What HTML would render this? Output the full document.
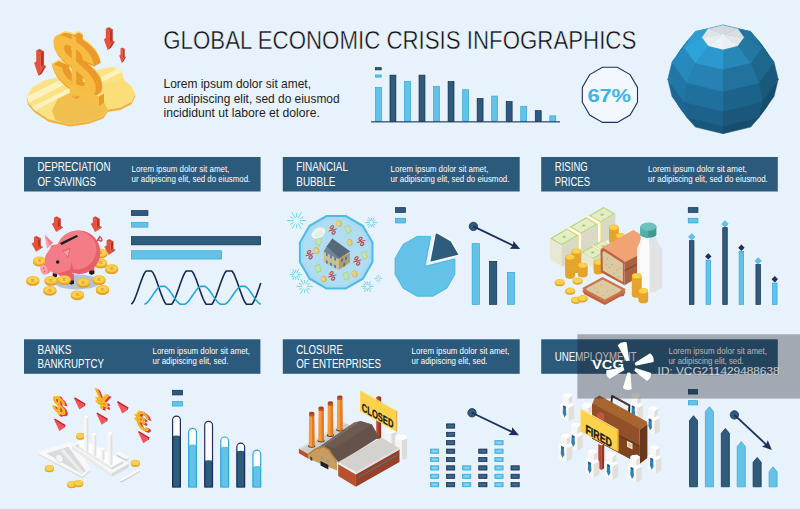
<!DOCTYPE html>
<html lang="en">
<head>
<meta charset="utf-8">
<title>Global Economic Crisis Infographics</title>
<style>
html,body{margin:0;padding:0;background:#e8f2fd;}
body{width:800px;height:509px;overflow:hidden;}
svg{display:block;font-family:"Liberation Sans",sans-serif;}
svg text{white-space:pre;}
</style>
</head>
<body>
<svg width="800" height="509" viewBox="0 0 800 509">
<rect width="800" height="509" fill="#e8f2fd"/>
<g id="title">
<text x="163.30" y="49.10" font-size="25" fill="#0c0c10" textLength="473.0" lengthAdjust="spacingAndGlyphs" stroke="#e8f2fd" stroke-width="0.45" paint-order="fill stroke">GLOBAL ECONOMIC CRISIS INFOGRAPHICS</text>
<text x="163.50" y="88.10" font-size="12.4" fill="#1d1d22" textLength="147.5" lengthAdjust="spacingAndGlyphs" >Lorem ipsum dolor sit amet,</text>
<text x="163.50" y="102.75" font-size="12.4" fill="#1d1d22" textLength="176.1" lengthAdjust="spacingAndGlyphs" >ur adipiscing elit, sed do eiusmod</text>
<text x="163.50" y="117.40" font-size="12.4" fill="#1d1d22" textLength="156.3" lengthAdjust="spacingAndGlyphs" >incididunt ut labore et dolore.</text>
</g>
<g id="topchart">
<rect x="375.45" y="67.65" width="5.80" height="2.20" fill="#2e5c7d" stroke="#15284f" stroke-width="0.7"/>
<rect x="375.45" y="74.95" width="5.80" height="2.20" fill="#64c2e8" stroke="#2ba7dc" stroke-width="0.7"/>
<rect x="375.45" y="87.55" width="5.90" height="33.70" fill="#64c2e8" stroke="#2ba7dc" stroke-width="0.7"/>
<rect x="389.98" y="75.15" width="5.90" height="46.10" fill="#2e5c7d" stroke="#15284f" stroke-width="0.7"/>
<rect x="404.51" y="81.45" width="5.90" height="39.80" fill="#64c2e8" stroke="#2ba7dc" stroke-width="0.7"/>
<rect x="419.04" y="75.15" width="5.90" height="46.10" fill="#2e5c7d" stroke="#15284f" stroke-width="0.7"/>
<rect x="433.57" y="86.45" width="5.90" height="34.80" fill="#64c2e8" stroke="#2ba7dc" stroke-width="0.7"/>
<rect x="448.10" y="81.45" width="5.90" height="39.80" fill="#2e5c7d" stroke="#15284f" stroke-width="0.7"/>
<rect x="462.63" y="89.75" width="5.90" height="31.50" fill="#64c2e8" stroke="#2ba7dc" stroke-width="0.7"/>
<rect x="477.16" y="98.55" width="5.90" height="22.70" fill="#2e5c7d" stroke="#15284f" stroke-width="0.7"/>
<rect x="491.69" y="96.05" width="5.90" height="25.20" fill="#64c2e8" stroke="#2ba7dc" stroke-width="0.7"/>
<rect x="506.22" y="101.55" width="5.90" height="19.70" fill="#2e5c7d" stroke="#15284f" stroke-width="0.7"/>
<rect x="520.75" y="106.55" width="5.90" height="14.70" fill="#64c2e8" stroke="#2ba7dc" stroke-width="0.7"/>
<rect x="535.28" y="110.65" width="5.90" height="10.60" fill="#2e5c7d" stroke="#15284f" stroke-width="0.7"/>
<rect x="549.81" y="115.85" width="5.90" height="5.40" fill="#64c2e8" stroke="#2ba7dc" stroke-width="0.7"/>
<rect x="371.00" y="121.30" width="189.00" height="1.10" fill="#1c2f5e" />
</g>
<g id="badge">
<polygon points="637.5,102.2 630.1,115.0 617.3,122.4 602.5,122.4 589.7,115.0 582.3,102.2 582.3,87.4 589.7,74.6 602.5,67.2 617.3,67.2 630.1,74.6 637.5,87.4" fill="#f3f8fe" stroke="#1c2f5e" stroke-width="1.1"/>
<text x="587.40" y="101.70" font-size="19.2" fill="#3db4e6" textLength="43.6" lengthAdjust="spacingAndGlyphs" font-weight="bold" >67%</text>
</g>
<g id="headers">
<rect x="24.00" y="157.00" width="236.60" height="34.50" fill="#2c5a7d" />
<text x="37.50" y="171.20" font-size="12.2" fill="#ffffff" textLength="73.0" lengthAdjust="spacingAndGlyphs" >DEPRECIATION</text>
<text x="37.50" y="185.70" font-size="12.2" fill="#ffffff" textLength="58.5" lengthAdjust="spacingAndGlyphs" >OF SAVINGS</text>
<text x="131.60" y="172.10" font-size="8.6" fill="#ffffff" textLength="97.7" lengthAdjust="spacingAndGlyphs" >Lorem ipsum dolor sit amet,</text>
<text x="131.60" y="182.00" font-size="8.6" fill="#ffffff" textLength="118.7" lengthAdjust="spacingAndGlyphs" >ur adipiscing elit, sed do eiusmod.</text>
<rect x="282.80" y="157.00" width="236.90" height="34.50" fill="#2c5a7d" />
<text x="296.30" y="171.20" font-size="12.2" fill="#ffffff" textLength="51.6" lengthAdjust="spacingAndGlyphs" >FINANCIAL</text>
<text x="296.30" y="185.70" font-size="12.2" fill="#ffffff" textLength="39.0" lengthAdjust="spacingAndGlyphs" >BUBBLE</text>
<text x="390.60" y="172.10" font-size="8.6" fill="#ffffff" textLength="97.8" lengthAdjust="spacingAndGlyphs" >Lorem ipsum dolor sit amet,</text>
<text x="390.60" y="182.00" font-size="8.6" fill="#ffffff" textLength="118.8" lengthAdjust="spacingAndGlyphs" >ur adipiscing elit, sed do eiusmod.</text>
<rect x="541.20" y="157.00" width="236.60" height="34.50" fill="#2c5a7d" />
<text x="554.70" y="171.20" font-size="12.2" fill="#ffffff" textLength="33.1" lengthAdjust="spacingAndGlyphs" >RISING</text>
<text x="554.70" y="185.70" font-size="12.2" fill="#ffffff" textLength="35.3" lengthAdjust="spacingAndGlyphs" >PRICES</text>
<text x="648.10" y="172.10" font-size="8.6" fill="#ffffff" textLength="98.8" lengthAdjust="spacingAndGlyphs" >Lorem ipsum dolor sit amet,</text>
<text x="648.10" y="182.00" font-size="8.6" fill="#ffffff" textLength="119.7" lengthAdjust="spacingAndGlyphs" >ur adipiscing elit, sed do eiusmod.</text>
<rect x="24.00" y="339.30" width="236.40" height="34.50" fill="#2c5a7d" />
<text x="37.50" y="353.50" font-size="12.2" fill="#ffffff" textLength="33.8" lengthAdjust="spacingAndGlyphs" >BANKS</text>
<text x="37.50" y="368.00" font-size="12.2" fill="#ffffff" textLength="66.5" lengthAdjust="spacingAndGlyphs" >BANKRUPTCY</text>
<text x="152.50" y="354.40" font-size="8.6" fill="#ffffff" textLength="97.5" lengthAdjust="spacingAndGlyphs" >Lorem ipsum dolor sit amet,</text>
<text x="152.50" y="364.30" font-size="8.6" fill="#ffffff" textLength="75.9" lengthAdjust="spacingAndGlyphs" >ur adipiscing elit, sed.</text>
<rect x="282.80" y="339.30" width="236.90" height="34.50" fill="#2c5a7d" />
<text x="296.30" y="353.50" font-size="12.2" fill="#ffffff" textLength="46.6" lengthAdjust="spacingAndGlyphs" >CLOSURE</text>
<text x="296.30" y="368.00" font-size="12.2" fill="#ffffff" textLength="84.7" lengthAdjust="spacingAndGlyphs" >OF ENTERPRISES</text>
<text x="411.60" y="354.40" font-size="8.6" fill="#ffffff" textLength="97.8" lengthAdjust="spacingAndGlyphs" >Lorem ipsum dolor sit amet,</text>
<text x="411.60" y="364.30" font-size="8.6" fill="#ffffff" textLength="75.9" lengthAdjust="spacingAndGlyphs" >ur adipiscing elit, sed.</text>
<rect x="541.20" y="339.30" width="236.60" height="34.50" fill="#2c5a7d" />
<text x="554.70" y="360.90" font-size="12.2" fill="#ffffff" textLength="81.8" lengthAdjust="spacingAndGlyphs" >UNEMPLOYMENT</text>
<text x="668.50" y="354.40" font-size="8.6" fill="#ffffff" textLength="98.4" lengthAdjust="spacingAndGlyphs" >Lorem ipsum dolor sit amet,</text>
<text x="668.50" y="364.30" font-size="8.6" fill="#ffffff" textLength="75.2" lengthAdjust="spacingAndGlyphs" >ur adipiscing elit, sed.</text>
</g>
<g id="chart1">
<rect x="131.45" y="210.65" width="16.50" height="4.80" fill="#2e5c7d" stroke="#15284f" stroke-width="0.7"/>
<rect x="131.45" y="222.45" width="16.50" height="4.70" fill="#64c2e8" stroke="#2ba7dc" stroke-width="0.7"/>
<rect x="131.45" y="236.65" width="129.20" height="8.20" fill="#2e5c7d" stroke="#15284f" stroke-width="0.7"/>
<rect x="131.45" y="250.75" width="90.10" height="8.30" fill="#64c2e8" stroke="#2ba7dc" stroke-width="0.7"/>
<polyline points="131.3,304.2 132.7,302.8 134.2,300.1 135.6,296.7 137.1,292.8 138.5,288.7 139.9,284.5 141.4,280.5 142.8,276.8 144.2,273.7 145.7,271.3 147.1,271.0 148.6,271.0 150.0,271.0 151.4,271.0 152.9,272.5 154.3,275.3 155.8,278.8 157.2,282.6 158.6,286.8 160.1,290.9 161.5,294.9 163.0,298.6 164.4,301.7 165.8,304.0 167.3,304.2 168.7,304.2 170.2,304.2 171.6,304.2 173.0,302.5 174.5,299.7 175.9,296.2 177.3,292.3 178.8,288.2 180.2,284.0 181.7,280.0 183.1,276.4 184.5,273.4 186.0,271.1 187.4,271.0 188.9,271.0 190.3,271.0 191.7,271.0 193.2,272.8 194.6,275.7 196.1,279.2 197.5,283.2 198.9,287.3 200.4,291.5 201.8,295.4 203.2,299.0 204.7,302.0 206.1,304.2 207.6,304.2 209.0,304.2 210.4,304.2 211.9,304.2 213.3,302.2 214.8,299.2 216.2,295.7 217.6,291.8 219.1,287.6 220.5,283.5 222.0,279.5 223.4,276.0 224.8,273.0 226.3,271.0 227.7,271.0 229.1,271.0 230.6,271.0 232.0,271.0 233.5,273.2 234.9,276.2 236.3,279.7 237.8,283.7 239.2,287.9 240.7,292.0 242.1,295.9 243.5,299.4 245.0,302.3 246.4,304.2 247.9,304.2 249.3,304.2 250.7,304.2 252.2,304.2 253.6,301.8 255.0,298.8 256.5,295.2 257.9,291.2 259.4,287.1 260.8,282.9" fill="none" stroke="#16284f" stroke-width="1.6" stroke-linejoin="round"/>
<polyline points="144.3,304.2 145.6,303.8 146.9,302.8 148.2,301.4 149.5,299.8 150.8,298.0 152.1,296.1 153.4,294.1 154.7,292.2 156.0,290.5 157.2,288.9 158.5,287.6 159.8,286.6 161.1,286.4 162.4,286.4 163.7,286.4 165.0,286.4 166.3,287.3 167.6,288.5 168.9,290.0 170.2,291.7 171.5,293.6 172.8,295.5 174.1,297.5 175.4,299.3 176.7,301.0 178.0,302.4 179.2,303.6 180.5,304.2 181.8,304.2 183.1,304.2 184.4,304.2 185.7,303.8 187.0,302.7 188.3,301.4 189.6,299.7 190.9,297.9 192.2,296.0 193.5,294.1 194.8,292.2 196.1,290.4 197.4,288.8 198.7,287.5 200.0,286.6 201.3,286.4 202.6,286.4 203.8,286.4 205.1,286.4 206.4,287.3 207.7,288.5 209.0,290.0 210.3,291.8 211.6,293.6 212.9,295.6 214.2,297.5 215.5,299.3 216.8,301.0 218.1,302.5 219.4,303.6 220.7,304.2 222.0,304.2 223.3,304.2 224.6,304.2 225.9,303.8 227.1,302.7 228.4,301.3 229.7,299.7 231.0,297.9 232.3,296.0 233.6,294.0 234.9,292.1 236.2,290.4 237.5,288.8 238.8,287.5 240.1,286.5 241.4,286.4 242.7,286.4 244.0,286.4 245.3,286.4 246.6,287.3 247.9,288.5 249.2,290.1 250.4,291.8 251.7,293.7 253.0,295.6 254.3,297.5 255.6,299.4 256.9,301.0 258.2,302.5 259.5,303.6 260.8,304.2" fill="none" stroke="#22a6dc" stroke-width="1.6" stroke-linejoin="round"/>
</g>
<g id="chart2">
<rect x="395.45" y="207.65" width="10.00" height="4.70" fill="#2e5c7d" stroke="#15284f" stroke-width="0.7"/>
<rect x="395.45" y="218.25" width="10.00" height="4.70" fill="#64c2e8" stroke="#2ba7dc" stroke-width="0.7"/>
<polygon points="425.0,266.3 454.9,258.8 454.9,274.3 446.9,288.2 433.0,296.2 417.0,296.2 403.1,288.2 395.1,274.3 395.1,258.3 403.1,244.4 417.0,236.4 430.8,236.4" fill="#64c2e8" stroke="#2ba7dc" stroke-width="0.7"/>
<polygon points="429.4,262.7 435.2,232.8 437.4,232.8 451.3,240.8 459.3,254.7 459.3,255.2" fill="#2e5c7d" stroke="#f7fbff" stroke-width="1.6" stroke-linejoin="miter"/>
<rect x="472.15" y="243.65" width="7.30" height="60.70" fill="#64c2e8" stroke="#2ba7dc" stroke-width="0.7"/>
<rect x="489.55" y="261.35" width="7.20" height="43.00" fill="#2e5c7d" stroke="#15284f" stroke-width="0.7"/>
<rect x="507.45" y="272.45" width="7.00" height="31.90" fill="#64c2e8" stroke="#2ba7dc" stroke-width="0.7"/>
<circle cx="473.4" cy="226.4" r="4.2" fill="#2e5c7d" stroke="#1c2f5e" stroke-width="0.8"/>
<line x1="473.4" y1="226.4" x2="513.4" y2="245.7" stroke="#1c2f5e" stroke-width="1.8"/>
<polygon points="520.2,249.0 509.7,248.7 512.9,245.5 513.4,241.0" fill="#1c2f5e" />
</g>
<g id="chart3">
<rect x="688.25" y="207.65" width="9.70" height="4.70" fill="#2e5c7d" stroke="#15284f" stroke-width="0.7"/>
<rect x="688.25" y="218.25" width="9.70" height="4.70" fill="#64c2e8" stroke="#2ba7dc" stroke-width="0.7"/>
<rect x="689.45" y="240.65" width="4.50" height="63.70" fill="#2e5c7d" stroke="#15284f" stroke-width="0.7"/>
<polygon points="691.7,233.7 694.9,236.9 691.7,240.1 688.5,236.9" fill="#64c2e8" stroke="#2ba7dc" stroke-width="0.6"/>
<rect x="706.05" y="260.15" width="4.50" height="44.20" fill="#64c2e8" stroke="#2ba7dc" stroke-width="0.7"/>
<polygon points="708.3,253.2 711.5,256.4 708.3,259.6 705.1,256.4" fill="#1c2f5e" />
<rect x="722.75" y="227.65" width="4.50" height="76.70" fill="#2e5c7d" stroke="#15284f" stroke-width="0.7"/>
<polygon points="725.0,220.7 728.2,223.9 725.0,227.1 721.8,223.9" fill="#64c2e8" stroke="#2ba7dc" stroke-width="0.6"/>
<rect x="739.15" y="251.45" width="4.50" height="52.90" fill="#64c2e8" stroke="#2ba7dc" stroke-width="0.7"/>
<polygon points="741.4,244.5 744.6,247.7 741.4,250.9 738.2,247.7" fill="#1c2f5e" />
<rect x="755.95" y="264.65" width="4.50" height="39.70" fill="#2e5c7d" stroke="#15284f" stroke-width="0.7"/>
<polygon points="758.2,257.7 761.4,260.9 758.2,264.1 755.0,260.9" fill="#64c2e8" stroke="#2ba7dc" stroke-width="0.6"/>
<rect x="772.55" y="283.05" width="4.50" height="21.30" fill="#64c2e8" stroke="#2ba7dc" stroke-width="0.7"/>
<polygon points="774.8,276.1 778.0,279.3 774.8,282.5 771.6,279.3" fill="#1c2f5e" />
</g>
<g id="chart4">
<rect x="172.55" y="390.25" width="9.90" height="4.70" fill="#2e5c7d" stroke="#15284f" stroke-width="0.7"/>
<rect x="172.55" y="401.55" width="9.90" height="4.50" fill="#64c2e8" stroke="#2ba7dc" stroke-width="0.7"/>
<path d="M172.60,487.0 V420.00 a3.90,3.90 0 0 1 7.80,0 V487 Z" fill="#ffffff" stroke="#1c2f5e" stroke-width="1.2"/>
<rect x="172.95" y="436.95" width="7.10" height="50.00" fill="#2e5c7d" stroke="#15284f" stroke-width="0.7"/>
<ellipse cx="176.50" cy="436.60" rx="3.90" ry="1.1" fill="#2e5c7d"/>
<path d="M188.66,487.0 V432.20 a3.90,3.90 0 0 1 7.80,0 V487 Z" fill="#ffffff" stroke="#2aa7dc" stroke-width="1.2"/>
<rect x="189.01" y="445.85" width="7.10" height="41.10" fill="#64c2e8" stroke="#2ba7dc" stroke-width="0.7"/>
<ellipse cx="192.56" cy="445.50" rx="3.90" ry="1.1" fill="#64c2e8"/>
<path d="M204.72,487.0 V425.20 a3.90,3.90 0 0 1 7.80,0 V487 Z" fill="#ffffff" stroke="#1c2f5e" stroke-width="1.2"/>
<rect x="205.07" y="461.65" width="7.10" height="25.30" fill="#2e5c7d" stroke="#15284f" stroke-width="0.7"/>
<ellipse cx="208.62" cy="461.30" rx="3.90" ry="1.1" fill="#2e5c7d"/>
<path d="M220.78,487.0 V440.90 a3.90,3.90 0 0 1 7.80,0 V487 Z" fill="#ffffff" stroke="#2aa7dc" stroke-width="1.2"/>
<rect x="221.13" y="448.25" width="7.10" height="38.70" fill="#64c2e8" stroke="#2ba7dc" stroke-width="0.7"/>
<ellipse cx="224.68" cy="447.90" rx="3.90" ry="1.1" fill="#64c2e8"/>
<path d="M236.84,487.0 V447.10 a3.90,3.90 0 0 1 7.80,0 V487 Z" fill="#ffffff" stroke="#1c2f5e" stroke-width="1.2"/>
<rect x="237.19" y="452.25" width="7.10" height="34.70" fill="#2e5c7d" stroke="#15284f" stroke-width="0.7"/>
<ellipse cx="240.74" cy="451.90" rx="3.90" ry="1.1" fill="#2e5c7d"/>
<path d="M252.90,487.0 V454.10 a3.90,3.90 0 0 1 7.80,0 V487 Z" fill="#ffffff" stroke="#2aa7dc" stroke-width="1.2"/>
<rect x="253.25" y="467.55" width="7.10" height="19.40" fill="#64c2e8" stroke="#2ba7dc" stroke-width="0.7"/>
<ellipse cx="256.80" cy="467.20" rx="3.90" ry="1.1" fill="#64c2e8"/>
</g>
<g id="chart5">
<rect x="429.40" y="481.60" width="10.20" height="6.20" fill="#f4f9ff" />
<rect x="430.35" y="482.55" width="8.30" height="4.30" fill="#64c2e8" stroke="#2ba7dc" stroke-width="0.7"/>
<rect x="432.00" y="483.80" width="5.00" height="1.80" fill="#8fd2ee" />
<rect x="429.40" y="473.21" width="10.20" height="6.20" fill="#f4f9ff" />
<rect x="430.35" y="474.17" width="8.30" height="4.30" fill="#64c2e8" stroke="#2ba7dc" stroke-width="0.7"/>
<rect x="432.00" y="475.42" width="5.00" height="1.80" fill="#8fd2ee" />
<rect x="429.40" y="464.83" width="10.20" height="6.20" fill="#f4f9ff" />
<rect x="430.35" y="465.78" width="8.30" height="4.30" fill="#64c2e8" stroke="#2ba7dc" stroke-width="0.7"/>
<rect x="432.00" y="467.03" width="5.00" height="1.80" fill="#8fd2ee" />
<rect x="429.40" y="456.44" width="10.20" height="6.20" fill="#f4f9ff" />
<rect x="430.35" y="457.39" width="8.30" height="4.30" fill="#64c2e8" stroke="#2ba7dc" stroke-width="0.7"/>
<rect x="432.00" y="458.64" width="5.00" height="1.80" fill="#8fd2ee" />
<rect x="429.40" y="448.06" width="10.20" height="6.20" fill="#f4f9ff" />
<rect x="430.35" y="449.01" width="8.30" height="4.30" fill="#64c2e8" stroke="#2ba7dc" stroke-width="0.7"/>
<rect x="432.00" y="450.26" width="5.00" height="1.80" fill="#8fd2ee" />
<rect x="445.52" y="481.60" width="10.20" height="6.20" fill="#f4f9ff" />
<rect x="446.47" y="482.55" width="8.30" height="4.30" fill="#2e5c7d" stroke="#15284f" stroke-width="0.7"/>
<rect x="448.12" y="483.80" width="5.00" height="1.80" fill="#40698a" />
<rect x="445.52" y="473.21" width="10.20" height="6.20" fill="#f4f9ff" />
<rect x="446.47" y="474.17" width="8.30" height="4.30" fill="#2e5c7d" stroke="#15284f" stroke-width="0.7"/>
<rect x="448.12" y="475.42" width="5.00" height="1.80" fill="#40698a" />
<rect x="445.52" y="464.83" width="10.20" height="6.20" fill="#f4f9ff" />
<rect x="446.47" y="465.78" width="8.30" height="4.30" fill="#2e5c7d" stroke="#15284f" stroke-width="0.7"/>
<rect x="448.12" y="467.03" width="5.00" height="1.80" fill="#40698a" />
<rect x="445.52" y="456.44" width="10.20" height="6.20" fill="#f4f9ff" />
<rect x="446.47" y="457.39" width="8.30" height="4.30" fill="#2e5c7d" stroke="#15284f" stroke-width="0.7"/>
<rect x="448.12" y="458.64" width="5.00" height="1.80" fill="#40698a" />
<rect x="445.52" y="448.06" width="10.20" height="6.20" fill="#f4f9ff" />
<rect x="446.47" y="449.01" width="8.30" height="4.30" fill="#2e5c7d" stroke="#15284f" stroke-width="0.7"/>
<rect x="448.12" y="450.26" width="5.00" height="1.80" fill="#40698a" />
<rect x="445.52" y="439.67" width="10.20" height="6.20" fill="#f4f9ff" />
<rect x="446.47" y="440.62" width="8.30" height="4.30" fill="#2e5c7d" stroke="#15284f" stroke-width="0.7"/>
<rect x="448.12" y="441.88" width="5.00" height="1.80" fill="#40698a" />
<rect x="445.52" y="431.29" width="10.20" height="6.20" fill="#f4f9ff" />
<rect x="446.47" y="432.24" width="8.30" height="4.30" fill="#2e5c7d" stroke="#15284f" stroke-width="0.7"/>
<rect x="448.12" y="433.49" width="5.00" height="1.80" fill="#40698a" />
<rect x="445.52" y="422.90" width="10.20" height="6.20" fill="#f4f9ff" />
<rect x="446.47" y="423.86" width="8.30" height="4.30" fill="#2e5c7d" stroke="#15284f" stroke-width="0.7"/>
<rect x="448.12" y="425.11" width="5.00" height="1.80" fill="#40698a" />
<rect x="461.64" y="481.60" width="10.20" height="6.20" fill="#f4f9ff" />
<rect x="462.59" y="482.55" width="8.30" height="4.30" fill="#64c2e8" stroke="#2ba7dc" stroke-width="0.7"/>
<rect x="464.24" y="483.80" width="5.00" height="1.80" fill="#8fd2ee" />
<rect x="461.64" y="473.21" width="10.20" height="6.20" fill="#f4f9ff" />
<rect x="462.59" y="474.17" width="8.30" height="4.30" fill="#64c2e8" stroke="#2ba7dc" stroke-width="0.7"/>
<rect x="464.24" y="475.42" width="5.00" height="1.80" fill="#8fd2ee" />
<rect x="461.64" y="464.83" width="10.20" height="6.20" fill="#f4f9ff" />
<rect x="462.59" y="465.78" width="8.30" height="4.30" fill="#64c2e8" stroke="#2ba7dc" stroke-width="0.7"/>
<rect x="464.24" y="467.03" width="5.00" height="1.80" fill="#8fd2ee" />
<rect x="477.76" y="481.60" width="10.20" height="6.20" fill="#f4f9ff" />
<rect x="478.71" y="482.55" width="8.30" height="4.30" fill="#2e5c7d" stroke="#15284f" stroke-width="0.7"/>
<rect x="480.36" y="483.80" width="5.00" height="1.80" fill="#40698a" />
<rect x="477.76" y="473.21" width="10.20" height="6.20" fill="#f4f9ff" />
<rect x="478.71" y="474.17" width="8.30" height="4.30" fill="#2e5c7d" stroke="#15284f" stroke-width="0.7"/>
<rect x="480.36" y="475.42" width="5.00" height="1.80" fill="#40698a" />
<rect x="477.76" y="464.83" width="10.20" height="6.20" fill="#f4f9ff" />
<rect x="478.71" y="465.78" width="8.30" height="4.30" fill="#2e5c7d" stroke="#15284f" stroke-width="0.7"/>
<rect x="480.36" y="467.03" width="5.00" height="1.80" fill="#40698a" />
<rect x="477.76" y="456.44" width="10.20" height="6.20" fill="#f4f9ff" />
<rect x="478.71" y="457.39" width="8.30" height="4.30" fill="#2e5c7d" stroke="#15284f" stroke-width="0.7"/>
<rect x="480.36" y="458.64" width="5.00" height="1.80" fill="#40698a" />
<rect x="477.76" y="448.06" width="10.20" height="6.20" fill="#f4f9ff" />
<rect x="478.71" y="449.01" width="8.30" height="4.30" fill="#2e5c7d" stroke="#15284f" stroke-width="0.7"/>
<rect x="480.36" y="450.26" width="5.00" height="1.80" fill="#40698a" />
<rect x="493.88" y="481.60" width="10.20" height="6.20" fill="#f4f9ff" />
<rect x="494.83" y="482.55" width="8.30" height="4.30" fill="#64c2e8" stroke="#2ba7dc" stroke-width="0.7"/>
<rect x="496.48" y="483.80" width="5.00" height="1.80" fill="#8fd2ee" />
<rect x="493.88" y="473.21" width="10.20" height="6.20" fill="#f4f9ff" />
<rect x="494.83" y="474.17" width="8.30" height="4.30" fill="#64c2e8" stroke="#2ba7dc" stroke-width="0.7"/>
<rect x="496.48" y="475.42" width="5.00" height="1.80" fill="#8fd2ee" />
<rect x="493.88" y="464.83" width="10.20" height="6.20" fill="#f4f9ff" />
<rect x="494.83" y="465.78" width="8.30" height="4.30" fill="#64c2e8" stroke="#2ba7dc" stroke-width="0.7"/>
<rect x="496.48" y="467.03" width="5.00" height="1.80" fill="#8fd2ee" />
<rect x="493.88" y="456.44" width="10.20" height="6.20" fill="#f4f9ff" />
<rect x="494.83" y="457.39" width="8.30" height="4.30" fill="#64c2e8" stroke="#2ba7dc" stroke-width="0.7"/>
<rect x="496.48" y="458.64" width="5.00" height="1.80" fill="#8fd2ee" />
<rect x="493.88" y="448.06" width="10.20" height="6.20" fill="#f4f9ff" />
<rect x="494.83" y="449.01" width="8.30" height="4.30" fill="#64c2e8" stroke="#2ba7dc" stroke-width="0.7"/>
<rect x="496.48" y="450.26" width="5.00" height="1.80" fill="#8fd2ee" />
<rect x="493.88" y="439.67" width="10.20" height="6.20" fill="#f4f9ff" />
<rect x="494.83" y="440.62" width="8.30" height="4.30" fill="#64c2e8" stroke="#2ba7dc" stroke-width="0.7"/>
<rect x="496.48" y="441.88" width="5.00" height="1.80" fill="#8fd2ee" />
<rect x="510.00" y="481.60" width="10.20" height="6.20" fill="#f4f9ff" />
<rect x="510.95" y="482.55" width="8.30" height="4.30" fill="#2e5c7d" stroke="#15284f" stroke-width="0.7"/>
<rect x="512.60" y="483.80" width="5.00" height="1.80" fill="#40698a" />
<rect x="510.00" y="473.21" width="10.20" height="6.20" fill="#f4f9ff" />
<rect x="510.95" y="474.17" width="8.30" height="4.30" fill="#2e5c7d" stroke="#15284f" stroke-width="0.7"/>
<rect x="512.60" y="475.42" width="5.00" height="1.80" fill="#40698a" />
<rect x="510.00" y="464.83" width="10.20" height="6.20" fill="#f4f9ff" />
<rect x="510.95" y="465.78" width="8.30" height="4.30" fill="#2e5c7d" stroke="#15284f" stroke-width="0.7"/>
<rect x="512.60" y="467.03" width="5.00" height="1.80" fill="#40698a" />
<circle cx="472.0" cy="412.8" r="4.2" fill="#2e5c7d" stroke="#1c2f5e" stroke-width="0.8"/>
<line x1="472.0" y1="412.8" x2="512.1" y2="431.9" stroke="#1c2f5e" stroke-width="1.8"/>
<polygon points="519.0,435.2 508.5,435.0 511.7,431.7 512.2,427.2" fill="#1c2f5e" />
</g>
<g id="chart6">
<rect x="688.35" y="389.55" width="9.20" height="4.50" fill="#2e5c7d" stroke="#15284f" stroke-width="0.7"/>
<rect x="688.35" y="400.65" width="9.20" height="4.30" fill="#64c2e8" stroke="#2ba7dc" stroke-width="0.7"/>
<polygon points="689.5,486.8 689.5,420.6 693.5,415.7 697.5,420.6 697.5,486.8" fill="#2e5c7d" stroke="#15284f" stroke-width="0.7"/>
<polygon points="705.4,486.8 705.4,411.6 709.4,406.7 713.5,411.6 713.5,486.8" fill="#64c2e8" stroke="#2ba7dc" stroke-width="0.7"/>
<polygon points="721.3,486.8 721.3,433.3 725.3,428.4 729.4,433.3 729.4,486.8" fill="#2e5c7d" stroke="#15284f" stroke-width="0.7"/>
<polygon points="737.2,486.8 737.2,446.5 741.3,441.6 745.3,446.5 745.3,486.8" fill="#64c2e8" stroke="#2ba7dc" stroke-width="0.7"/>
<polygon points="753.1,486.8 753.1,462.3 757.2,457.4 761.2,462.3 761.2,486.8" fill="#2e5c7d" stroke="#15284f" stroke-width="0.7"/>
<polygon points="769.1,486.8 769.1,471.7 773.1,466.8 777.1,471.7 777.1,486.8" fill="#64c2e8" stroke="#2ba7dc" stroke-width="0.7"/>
<circle cx="734.4" cy="414.9" r="4.2" fill="#2e5c7d" stroke="#1c2f5e" stroke-width="0.8"/>
<line x1="734.4" y1="414.9" x2="766.4" y2="444.8" stroke="#1c2f5e" stroke-width="1.8"/>
<polygon points="771.9,450.0 762.0,446.6 766.0,444.5 767.8,440.3" fill="#1c2f5e" />
</g>
<g id="globe">
<circle cx="723.0" cy="79.3" r="52.0" fill="#226c98"/>
<polygon points="695.4,31.5 684.0,47.4 672.0,62.1 686.9,41.2" fill="#2685b7" stroke="#2685b7" stroke-width="0.5" stroke-linejoin="round"/>
<polygon points="762.0,47.4 750.6,31.5 759.1,41.2 774.0,62.1" fill="#1c6388" stroke="#1c6388" stroke-width="0.5" stroke-linejoin="round"/>
<polygon points="723.0,25.5 708.1,29.0 695.4,31.5 723.0,24.9" fill="#298dbe" stroke="#298dbe" stroke-width="0.5" stroke-linejoin="round"/>
<polygon points="737.9,29.0 723.0,25.5 723.0,24.9 750.6,31.5" fill="#247da8" stroke="#247da8" stroke-width="0.5" stroke-linejoin="round"/>
<polygon points="667.8,79.3 684.0,101.9 686.9,117.4 672.0,96.5" fill="#1f6792" stroke="#1f6792" stroke-width="0.5" stroke-linejoin="round"/>
<polygon points="762.0,101.9 778.2,79.3 774.0,96.5 759.1,117.4" fill="#174d6c" stroke="#174d6c" stroke-width="0.5" stroke-linejoin="round"/>
<polygon points="686.9,117.4 723.0,126.0 723.0,133.7 695.4,127.1" fill="#1a577c" stroke="#1a577c" stroke-width="0.5" stroke-linejoin="round"/>
<polygon points="723.0,126.0 759.1,117.4 750.6,127.1 723.0,133.7" fill="#174d6d" stroke="#174d6d" stroke-width="0.5" stroke-linejoin="round"/>
<polygon points="708.1,29.0 701.9,37.7 684.0,47.4 695.4,31.5" fill="#2d9dd3" stroke="#2d9dd3" stroke-width="0.5" stroke-linejoin="round"/>
<polygon points="744.1,37.7 737.9,29.0 750.6,31.5 762.0,47.4" fill="#21749c" stroke="#21749c" stroke-width="0.5" stroke-linejoin="round"/>
<polygon points="672.0,62.1 686.9,82.9 684.0,101.9 667.8,79.3" fill="#2276a6" stroke="#2276a6" stroke-width="0.5" stroke-linejoin="round"/>
<polygon points="759.1,82.9 774.0,62.1 778.2,79.3 762.0,101.9" fill="#19587b" stroke="#19587b" stroke-width="0.5" stroke-linejoin="round"/>
<polygon points="723.0,34.2 723.0,34.2 723.0,25.5 737.9,29.0" fill="#d4d9dc" stroke="#d4d9dc" stroke-width="0.5" stroke-linejoin="round"/>
<polygon points="723.0,34.2 723.0,34.2 708.1,29.0 723.0,25.5" fill="#d7dbdf" stroke="#d7dbdf" stroke-width="0.5" stroke-linejoin="round"/>
<polygon points="723.0,34.2 723.0,34.2 701.9,37.7 708.1,29.0" fill="#dfe4e7" stroke="#dfe4e7" stroke-width="0.5" stroke-linejoin="round"/>
<polygon points="723.0,34.2 723.0,34.2 737.9,29.0 744.1,37.7" fill="#d9dde0" stroke="#d9dde0" stroke-width="0.5" stroke-linejoin="round"/>
<polygon points="684.0,47.4 695.4,63.4 686.9,82.9 672.0,62.1" fill="#2789bd" stroke="#2789bd" stroke-width="0.5" stroke-linejoin="round"/>
<polygon points="750.6,63.4 762.0,47.4 774.0,62.1 759.1,82.9" fill="#1d668c" stroke="#1d668c" stroke-width="0.5" stroke-linejoin="round"/>
<polygon points="723.0,111.2 762.0,101.9 759.1,117.4 723.0,126.0" fill="#1a577a" stroke="#1a577a" stroke-width="0.5" stroke-linejoin="round"/>
<polygon points="684.0,101.9 723.0,111.2 723.0,126.0 686.9,117.4" fill="#1d628a" stroke="#1d628a" stroke-width="0.5" stroke-linejoin="round"/>
<polygon points="723.0,34.2 723.0,34.2 744.1,37.7 737.9,46.3" fill="#e2e6ea" stroke="#e2e6ea" stroke-width="0.5" stroke-linejoin="round"/>
<polygon points="723.0,34.2 723.0,34.2 708.1,46.3 701.9,37.7" fill="#e8edf1" stroke="#e8edf1" stroke-width="0.5" stroke-linejoin="round"/>
<polygon points="701.9,37.7 708.1,46.3 695.4,63.4 684.0,47.4" fill="#2ea2da" stroke="#2ea2da" stroke-width="0.5" stroke-linejoin="round"/>
<polygon points="737.9,46.3 744.1,37.7 762.0,47.4 750.6,63.4" fill="#2378a2" stroke="#2378a2" stroke-width="0.5" stroke-linejoin="round"/>
<polygon points="723.0,34.2 723.0,34.2 737.9,46.3 723.0,49.9" fill="#eaeff3" stroke="#eaeff3" stroke-width="0.5" stroke-linejoin="round"/>
<polygon points="723.0,34.2 723.0,34.2 723.0,49.9 708.1,46.3" fill="#edf2f6" stroke="#edf2f6" stroke-width="0.5" stroke-linejoin="round"/>
<polygon points="723.0,91.5 759.1,82.9 762.0,101.9 723.0,111.2" fill="#1c638b" stroke="#1c638b" stroke-width="0.5" stroke-linejoin="round"/>
<polygon points="686.9,82.9 723.0,91.5 723.0,111.2 684.0,101.9" fill="#20709d" stroke="#20709d" stroke-width="0.5" stroke-linejoin="round"/>
<polygon points="723.0,49.9 737.9,46.3 750.6,63.4 723.0,70.0" fill="#2787b6" stroke="#2787b6" stroke-width="0.5" stroke-linejoin="round"/>
<polygon points="708.1,46.3 723.0,49.9 723.0,70.0 695.4,63.4" fill="#2c99ce" stroke="#2c99ce" stroke-width="0.5" stroke-linejoin="round"/>
<polygon points="695.4,63.4 723.0,70.0 723.0,91.5 686.9,82.9" fill="#2582b3" stroke="#2582b3" stroke-width="0.5" stroke-linejoin="round"/>
<polygon points="723.0,70.0 750.6,63.4 759.1,82.9 723.0,91.5" fill="#21739e" stroke="#21739e" stroke-width="0.5" stroke-linejoin="round"/>
</g>
<g id="gold">
<polygon points="27.1,98.6 31.8,90.3 43.6,83.3 60.1,79.0 70.7,79.0 90.8,77.4 99.0,71.9 113.2,69.1 121.5,73.4 123.8,82.8 130.4,87.5 135.1,96.2 131.4,104.0 120.3,109.7 107.8,111.6 103.1,118.2 88.9,123.4 70.0,126.2 48.8,121.5 34.6,112.1 28.5,105.0" fill="#f2ad3c" stroke="#f2ad3c" stroke-width="0.6" stroke-linejoin="round"/>
<clipPath id="pudc"><polygon points="27.1,96.4 31.8,88.1 43.6,81.1 60.1,76.8 70.7,76.8 90.8,75.2 99.0,69.7 113.2,66.9 121.5,71.2 123.8,80.6 130.4,85.3 135.1,94.0 131.4,101.8 120.3,107.5 107.8,109.4 103.1,116.0 88.9,121.2 70.0,124.0 48.8,119.3 34.6,109.9 28.5,102.8"/></clipPath>
<polygon points="27.1,96.4 31.8,88.1 43.6,81.1 60.1,76.8 70.7,76.8 90.8,75.2 99.0,69.7 113.2,66.9 121.5,71.2 123.8,80.6 130.4,85.3 135.1,94.0 131.4,101.8 120.3,107.5 107.8,109.4 103.1,116.0 88.9,121.2 70.0,124.0 48.8,119.3 34.6,109.9 28.5,102.8" fill="#fbe284" stroke="#fbe284" stroke-width="0.6" stroke-linejoin="round"/>
<g clip-path="url(#pudc)">
<polygon points="24.7,97.6 74.3,72.8 79.0,76.8 29.4,102.8" fill="#fdf1bd" />
<polygon points="29.4,108.2 69.6,88.1 72.4,91.0 33.0,111.7" fill="#fdf1bd" />
<polygon points="88.4,83.4 123.8,65.7 126.2,69.7 90.8,87.7" fill="#fdf1bd" />
<polygon points="97.9,85.8 123.8,78.7 138.0,95.2 121.5,109.4 104.9,109.4" fill="#fadb6e" opacity="0.55"/>
<polygon points="51.9,110.6 57.8,98.8 69.6,93.3 90.8,92.9 101.4,97.6 107.8,109.4 103.1,116.5 88.9,121.7 70.0,124.5 55.4,120.0" fill="#f1bf4e" />
</g>
<text transform="translate(57.00,73.76) skewY(30) scale(1.16,1.03)" font-size="72" font-weight="bold" fill="#fbd861">$</text>
<text transform="translate(56.45,74.08) skewY(30) scale(1.16,1.03)" font-size="72" font-weight="bold" fill="#fbd861">$</text>
<text transform="translate(55.90,74.40) skewY(30) scale(1.16,1.03)" font-size="72" font-weight="bold" fill="#fbd861">$</text>
<text transform="translate(55.35,74.72) skewY(30) scale(1.16,1.03)" font-size="72" font-weight="bold" fill="#fbd861">$</text>
<text transform="translate(54.80,75.04) skewY(30) scale(1.16,1.03)" font-size="72" font-weight="bold" fill="#fbd861">$</text>
<text transform="translate(54.25,75.36) skewY(30) scale(1.16,1.03)" font-size="72" font-weight="bold" fill="#fbd861">$</text>
<text transform="translate(53.70,75.68) skewY(30) scale(1.16,1.03)" font-size="72" font-weight="bold" fill="#fbd861">$</text>
<text transform="translate(53.15,76.00) skewY(30) scale(1.16,1.03)" font-size="72" font-weight="bold" fill="#fbd861">$</text>
<text transform="translate(52.60,76.32) skewY(30) scale(1.16,1.03)" font-size="72" font-weight="bold" fill="#fbd861">$</text>
<text transform="translate(52.05,76.64) skewY(30) scale(1.16,1.03)" font-size="72" font-weight="bold" fill="#fbd861">$</text>
<text transform="translate(51.50,76.96) skewY(30) scale(1.16,1.03)" font-size="72" font-weight="bold" fill="#fbd861">$</text>
<text transform="translate(50.95,77.28) skewY(30) scale(1.16,1.03)" font-size="72" font-weight="bold" fill="#fbd861">$</text>
<text transform="translate(57.00,75.36) skewY(30) scale(1.16,1.03)" font-size="72" font-weight="bold" fill="#ea9a2b">$</text>
<text transform="translate(56.45,75.68) skewY(30) scale(1.16,1.03)" font-size="72" font-weight="bold" fill="#ea9a2b">$</text>
<text transform="translate(55.90,76.00) skewY(30) scale(1.16,1.03)" font-size="72" font-weight="bold" fill="#ea9a2b">$</text>
<text transform="translate(55.35,76.32) skewY(30) scale(1.16,1.03)" font-size="72" font-weight="bold" fill="#ea9a2b">$</text>
<text transform="translate(54.80,76.64) skewY(30) scale(1.16,1.03)" font-size="72" font-weight="bold" fill="#ea9a2b">$</text>
<text transform="translate(54.25,76.96) skewY(30) scale(1.16,1.03)" font-size="72" font-weight="bold" fill="#ea9a2b">$</text>
<text transform="translate(53.70,77.28) skewY(30) scale(1.16,1.03)" font-size="72" font-weight="bold" fill="#ea9a2b">$</text>
<text transform="translate(53.15,77.60) skewY(30) scale(1.16,1.03)" font-size="72" font-weight="bold" fill="#ea9a2b">$</text>
<text transform="translate(52.60,77.92) skewY(30) scale(1.16,1.03)" font-size="72" font-weight="bold" fill="#ea9a2b">$</text>
<text transform="translate(52.05,78.24) skewY(30) scale(1.16,1.03)" font-size="72" font-weight="bold" fill="#ea9a2b">$</text>
<text transform="translate(51.50,78.56) skewY(30) scale(1.16,1.03)" font-size="72" font-weight="bold" fill="#ea9a2b">$</text>
<text transform="translate(50.95,78.88) skewY(30) scale(1.16,1.03)" font-size="72" font-weight="bold" fill="#ea9a2b">$</text>
<text transform="translate(50.40,77.60) skewY(30) scale(1.16,1.03)" font-size="72" font-weight="bold" fill="#f7bc43">$</text>
<polygon points="99.0,96.6 104.0,93.8 104.0,102.8 99.0,106.1" fill="#ea9a2b" />
<polygon points="70.0,84.8 81.8,90.0 90.8,93.3 99.0,96.6 99.0,106.1 90.8,102.8 81.8,97.6 70.0,92.9" fill="#f7bf48" />
<polygon points="36.2,50.8 40.5,53.2 43.8,51.4 39.5,49.0" fill="#d8432f" stroke="#d8432f" stroke-width="0.3"/>
<polygon points="40.5,53.2 40.5,66.9 43.8,65.1 43.8,51.4" fill="#b93226" stroke="#b93226" stroke-width="0.3"/>
<polygon points="40.5,66.9 42.7,68.1 45.9,66.3 43.8,65.1" fill="#d8432f" stroke="#d8432f" stroke-width="0.3"/>
<polygon points="42.7,68.1 38.4,75.5 41.6,73.7 45.9,66.3" fill="#b93226" stroke="#b93226" stroke-width="0.3"/>
<polygon points="34.1,63.1 36.2,64.4 39.5,62.6 37.3,61.3" fill="#d8432f" stroke="#d8432f" stroke-width="0.3"/>
<polygon points="36.2,50.8 40.5,53.2 40.5,66.9 42.7,68.1 38.4,75.5 34.1,63.1 36.2,64.4" fill="#e8503a" />
<polygon points="105.8,29.1 109.4,31.3 112.6,29.5 109.0,27.3" fill="#d8432f" stroke="#d8432f" stroke-width="0.3"/>
<polygon points="109.4,31.3 109.4,42.6 112.6,40.8 112.6,29.5" fill="#b93226" stroke="#b93226" stroke-width="0.3"/>
<polygon points="109.4,42.6 111.3,43.6 114.5,41.8 112.6,40.8" fill="#d8432f" stroke="#d8432f" stroke-width="0.3"/>
<polygon points="111.3,43.6 107.6,49.7 110.8,47.9 114.5,41.8" fill="#b93226" stroke="#b93226" stroke-width="0.3"/>
<polygon points="103.9,39.4 105.8,40.4 109.0,38.6 107.1,37.6" fill="#d8432f" stroke="#d8432f" stroke-width="0.3"/>
<polygon points="105.8,29.1 109.4,31.3 109.4,42.6 111.3,43.6 107.6,49.7 103.9,39.4 105.8,40.4" fill="#e8503a" />
<polygon points="120.5,48.8 122.7,50.0 124.5,49.0 122.3,47.8" fill="#d8432f" stroke="#d8432f" stroke-width="0.3"/>
<polygon points="122.7,50.0 122.7,57.6 124.5,56.6 124.5,49.0" fill="#b93226" stroke="#b93226" stroke-width="0.3"/>
<polygon points="122.7,57.6 123.8,58.2 125.6,57.2 124.5,56.6" fill="#d8432f" stroke="#d8432f" stroke-width="0.3"/>
<polygon points="123.8,58.2 121.6,62.4 123.4,61.4 125.6,57.2" fill="#b93226" stroke="#b93226" stroke-width="0.3"/>
<polygon points="119.4,55.7 120.5,56.3 122.3,55.3 121.2,54.7" fill="#d8432f" stroke="#d8432f" stroke-width="0.3"/>
<polygon points="120.5,48.8 122.7,50.0 122.7,57.6 123.8,58.2 121.6,62.4 119.4,55.7 120.5,56.3" fill="#e8503a" />
</g>
<g id="piggy">
<ellipse cx="77.0" cy="282.0" rx="23.5" ry="7.4" fill="#b3c2d4"/>
<path d="M33.0,260.6 v1.8 a6.6,4.0 0 0 0 13.2,0 v-1.8 z" fill="#e3a12b"/>
<ellipse cx="39.6" cy="260.6" rx="6.6" ry="4.0" fill="#f6bd38"/>
<ellipse cx="39.6" cy="260.6" rx="5.1" ry="3.1" fill="#fbd24e"/>
<text transform="translate(39.6,262.2) scale(1,0.62)" font-size="7" font-weight="bold" text-anchor="middle" fill="#e3a12b">$</text>
<path d="M94.3,252.7 v1.8 a6.6,4.0 0 0 0 13.2,0 v-1.8 z" fill="#e3a12b"/>
<ellipse cx="100.9" cy="252.7" rx="6.6" ry="4.0" fill="#f6bd38"/>
<ellipse cx="100.9" cy="252.7" rx="5.1" ry="3.1" fill="#fbd24e"/>
<text transform="translate(100.9,254.3) scale(1,0.62)" font-size="7" font-weight="bold" text-anchor="middle" fill="#e3a12b">$</text>
<path d="M94.0,262.6 v1.8 a6.6,4.0 0 0 0 13.2,0 v-1.8 z" fill="#e3a12b"/>
<ellipse cx="100.6" cy="262.6" rx="6.6" ry="4.0" fill="#f6bd38"/>
<ellipse cx="100.6" cy="262.6" rx="5.1" ry="3.1" fill="#fbd24e"/>
<text transform="translate(100.6,264.2) scale(1,0.62)" font-size="7" font-weight="bold" text-anchor="middle" fill="#e3a12b">$</text>
<path d="M105.0,268.3 v1.8 a6.6,4.0 0 0 0 13.2,0 v-1.8 z" fill="#e3a12b"/>
<ellipse cx="111.6" cy="268.3" rx="6.6" ry="4.0" fill="#f6bd38"/>
<ellipse cx="111.6" cy="268.3" rx="5.1" ry="3.1" fill="#fbd24e"/>
<text transform="translate(111.6,269.9) scale(1,0.62)" font-size="7" font-weight="bold" text-anchor="middle" fill="#e3a12b">$</text>
<polygon points="53.9,218.0 58.0,220.3 60.6,218.8 56.5,216.5" fill="#d8432f" stroke="#d8432f" stroke-width="0.3"/>
<polygon points="58.0,220.3 58.0,227.6 60.6,226.1 60.6,218.8" fill="#b93226" stroke="#b93226" stroke-width="0.3"/>
<polygon points="58.0,227.6 60.1,228.8 62.7,227.3 60.6,226.1" fill="#d8432f" stroke="#d8432f" stroke-width="0.3"/>
<polygon points="60.1,228.8 56.0,231.7 58.6,230.2 62.7,227.3" fill="#b93226" stroke="#b93226" stroke-width="0.3"/>
<polygon points="51.9,224.1 53.9,225.3 56.5,223.8 54.5,222.6" fill="#d8432f" stroke="#d8432f" stroke-width="0.3"/>
<polygon points="53.9,218.0 58.0,220.3 58.0,227.6 60.1,228.8 56.0,231.7 51.9,224.1 53.9,225.3" fill="#e8503a" />
<polygon points="92.8,218.0 96.9,220.3 99.5,218.8 95.4,216.5" fill="#d8432f" stroke="#d8432f" stroke-width="0.3"/>
<polygon points="96.9,220.3 96.9,227.6 99.5,226.1 99.5,218.8" fill="#b93226" stroke="#b93226" stroke-width="0.3"/>
<polygon points="96.9,227.6 99.0,228.8 101.6,227.3 99.5,226.1" fill="#d8432f" stroke="#d8432f" stroke-width="0.3"/>
<polygon points="99.0,228.8 94.9,231.7 97.5,230.2 101.6,227.3" fill="#b93226" stroke="#b93226" stroke-width="0.3"/>
<polygon points="90.8,224.1 92.8,225.3 95.4,223.8 93.4,222.6" fill="#d8432f" stroke="#d8432f" stroke-width="0.3"/>
<polygon points="92.8,218.0 96.9,220.3 96.9,227.6 99.0,228.8 94.9,231.7 90.8,224.1 92.8,225.3" fill="#e8503a" />
<polygon points="89.2,263.9 94.3,263.9 94.3,273.4 89.2,273.4" fill="#e6606c" />
<polygon points="89.2,270.6 94.3,270.6 94.3,273.8 91.7,274.9 89.2,273.8" fill="#1d1d22" />
<polygon points="52.8,269.8 57.1,269.8 57.1,276.1 52.8,276.1" fill="#e6606c" />
<polygon points="52.8,273.4 57.1,273.4 57.1,276.5 55.0,277.7 52.8,276.5" fill="#1d1d22" />
<path d="M97.2,241.0 q2,-5 4,-3 q2,3 -1,3 q-3,-1 0,-5" fill="none" stroke="#d2414f" stroke-width="1.3"/>
<ellipse cx="78.9" cy="252.2" rx="21.4" ry="21.8" fill="#e6606c" transform="rotate(-20 78.9 252.2)"/>
<ellipse cx="77.3" cy="249.4" rx="20.0" ry="19.2" fill="#f47c86" transform="rotate(-20 78.9 252.2)"/>
<polygon points="68.9,273.8 74.0,273.8 74.0,283.2 68.9,283.2" fill="#e6606c" />
<polygon points="68.9,280.4 74.0,280.4 74.0,283.6 71.5,284.8 68.9,283.6" fill="#1d1d22" />
<ellipse cx="59.3" cy="260.4" rx="14.6" ry="13.6" fill="#f47c86"/>
<polygon points="47.5,254.1 51.4,245.3 62.2,243.3 71.5,256.1 70.1,269.8 57.3,273.8 46.5,267.9" fill="#f47c86" />
<polygon points="57.3,273.8 70.1,269.8 71.5,262.0 74.0,271.8 69.1,276.7 60.3,276.1" fill="#e6606c" />
<polygon points="45.0,234.9 53.0,242.7 47.1,248.6" fill="#f47c86" />
<polygon points="45.0,234.9 49.9,245.3 47.1,248.6" fill="#f9a0a6" />
<polygon points="62.4,250.6 70.7,247.8 68.3,258.4" fill="#e6606c" />
<polygon points="63.6,251.4 69.5,249.4 67.7,256.5" fill="#f9a0a6" />
<ellipse cx="46.2" cy="269.2" rx="5.2" ry="5.6" fill="#f47c86" transform="rotate(-20 44.0 269.8)"/>
<ellipse cx="44.0" cy="269.8" rx="3.6" ry="5.2" fill="#f9a0a6" transform="rotate(-20 44.0 269.8)"/>
<ellipse cx="43.7" cy="268.2" rx="0.7" ry="1.0" fill="#e6606c"/>
<ellipse cx="44.5" cy="271.6" rx="0.7" ry="1.0" fill="#e6606c"/>
<circle cx="57.7" cy="262.0" r="1.7" fill="#16161c"/>
<polygon points="59.9,242.9 76.6,234.9 78.2,236.4 61.7,244.9" fill="#1d1d22" />
<path d="M26.2,280.0 v1.8 a6.6,4.0 0 0 0 13.2,0 v-1.8 z" fill="#e3a12b"/>
<ellipse cx="32.8" cy="280.0" rx="6.6" ry="4.0" fill="#f6bd38"/>
<ellipse cx="32.8" cy="280.0" rx="5.1" ry="3.1" fill="#fbd24e"/>
<text transform="translate(32.8,281.6) scale(1,0.62)" font-size="7" font-weight="bold" text-anchor="middle" fill="#e3a12b">$</text>
<path d="M44.4,280.0 v1.8 a6.6,4.0 0 0 0 13.2,0 v-1.8 z" fill="#e3a12b"/>
<ellipse cx="51.0" cy="280.0" rx="6.6" ry="4.0" fill="#f6bd38"/>
<ellipse cx="51.0" cy="280.0" rx="5.1" ry="3.1" fill="#fbd24e"/>
<text transform="translate(51.0,281.6) scale(1,0.62)" font-size="7" font-weight="bold" text-anchor="middle" fill="#e3a12b">$</text>
<path d="M57.6,279.3 v1.8 a6.6,4.0 0 0 0 13.2,0 v-1.8 z" fill="#e3a12b"/>
<ellipse cx="64.2" cy="279.3" rx="6.6" ry="4.0" fill="#f6bd38"/>
<ellipse cx="64.2" cy="279.3" rx="5.1" ry="3.1" fill="#fbd24e"/>
<text transform="translate(64.2,280.9) scale(1,0.62)" font-size="7" font-weight="bold" text-anchor="middle" fill="#e3a12b">$</text>
<path d="M76.7,282.0 v1.8 a6.6,4.0 0 0 0 13.2,0 v-1.8 z" fill="#e3a12b"/>
<ellipse cx="83.3" cy="282.0" rx="6.6" ry="4.0" fill="#f6bd38"/>
<ellipse cx="83.3" cy="282.0" rx="5.1" ry="3.1" fill="#fbd24e"/>
<text transform="translate(83.3,283.6) scale(1,0.62)" font-size="7" font-weight="bold" text-anchor="middle" fill="#e3a12b">$</text>
<path d="M92.4,279.3 v1.8 a6.6,4.0 0 0 0 13.2,0 v-1.8 z" fill="#e3a12b"/>
<ellipse cx="99.0" cy="279.3" rx="6.6" ry="4.0" fill="#f6bd38"/>
<ellipse cx="99.0" cy="279.3" rx="5.1" ry="3.1" fill="#fbd24e"/>
<text transform="translate(99.0,280.9) scale(1,0.62)" font-size="7" font-weight="bold" text-anchor="middle" fill="#e3a12b">$</text>
<path d="M43.3,289.9 v1.8 a6.6,4.0 0 0 0 13.2,0 v-1.8 z" fill="#e3a12b"/>
<ellipse cx="49.9" cy="289.9" rx="6.6" ry="4.0" fill="#f6bd38"/>
<ellipse cx="49.9" cy="289.9" rx="5.1" ry="3.1" fill="#fbd24e"/>
<text transform="translate(49.9,291.5) scale(1,0.62)" font-size="7" font-weight="bold" text-anchor="middle" fill="#e3a12b">$</text>
<path d="M95.9,289.1 v1.8 a6.6,4.0 0 0 0 13.2,0 v-1.8 z" fill="#e3a12b"/>
<ellipse cx="102.5" cy="289.1" rx="6.6" ry="4.0" fill="#f6bd38"/>
<ellipse cx="102.5" cy="289.1" rx="5.1" ry="3.1" fill="#fbd24e"/>
<text transform="translate(102.5,290.7) scale(1,0.62)" font-size="7" font-weight="bold" text-anchor="middle" fill="#e3a12b">$</text>
<path d="M70.8,294.4 v1.8 a6.6,4.0 0 0 0 13.2,0 v-1.8 z" fill="#e3a12b"/>
<ellipse cx="77.4" cy="294.4" rx="6.6" ry="4.0" fill="#f6bd38"/>
<ellipse cx="77.4" cy="294.4" rx="5.1" ry="3.1" fill="#fbd24e"/>
<text transform="translate(77.4,296.0) scale(1,0.62)" font-size="7" font-weight="bold" text-anchor="middle" fill="#e3a12b">$</text>
<polygon points="33.9,237.6 38.0,240.0 40.6,238.5 36.5,236.1" fill="#d8432f" stroke="#d8432f" stroke-width="0.3"/>
<polygon points="38.0,240.0 38.0,247.3 40.6,245.8 40.6,238.5" fill="#b93226" stroke="#b93226" stroke-width="0.3"/>
<polygon points="38.0,247.3 40.0,248.5 42.6,247.0 40.6,245.8" fill="#d8432f" stroke="#d8432f" stroke-width="0.3"/>
<polygon points="40.0,248.5 35.9,251.4 38.5,249.9 42.6,247.0" fill="#b93226" stroke="#b93226" stroke-width="0.3"/>
<polygon points="31.8,243.7 33.9,244.9 36.5,243.4 34.4,242.2" fill="#d8432f" stroke="#d8432f" stroke-width="0.3"/>
<polygon points="33.9,237.6 38.0,240.0 38.0,247.3 40.0,248.5 35.9,251.4 31.8,243.7 33.9,244.9" fill="#e8503a" />
<polygon points="106.6,240.8 110.7,243.1 113.3,241.6 109.2,239.3" fill="#d8432f" stroke="#d8432f" stroke-width="0.3"/>
<polygon points="110.7,243.1 110.7,250.4 113.3,248.9 113.3,241.6" fill="#b93226" stroke="#b93226" stroke-width="0.3"/>
<polygon points="110.7,250.4 112.7,251.6 115.3,250.1 113.3,248.9" fill="#d8432f" stroke="#d8432f" stroke-width="0.3"/>
<polygon points="112.7,251.6 108.6,254.5 111.2,253.0 115.3,250.1" fill="#b93226" stroke="#b93226" stroke-width="0.3"/>
<polygon points="104.5,246.9 106.6,248.1 109.2,246.6 107.1,245.4" fill="#d8432f" stroke="#d8432f" stroke-width="0.3"/>
<polygon points="106.6,240.8 110.7,243.1 110.7,250.4 112.7,251.6 108.6,254.5 104.5,246.9 106.6,248.1" fill="#e8503a" />
</g>
<g id="bubble">
<line x1="300.2" y1="220.6" x2="305.9" y2="220.6" stroke="#4fc8da" stroke-width="0.75" stroke-linecap="round"/>
<line x1="300.3" y1="222.7" x2="302.9" y2="224.2" stroke="#4fc8da" stroke-width="0.75" stroke-linecap="round"/>
<line x1="298.4" y1="223.7" x2="301.3" y2="228.6" stroke="#4fc8da" stroke-width="0.75" stroke-linecap="round"/>
<line x1="296.7" y1="224.8" x2="296.7" y2="227.8" stroke="#4fc8da" stroke-width="0.75" stroke-linecap="round"/>
<line x1="295.0" y1="223.7" x2="292.1" y2="228.6" stroke="#4fc8da" stroke-width="0.75" stroke-linecap="round"/>
<line x1="293.1" y1="222.7" x2="290.5" y2="224.2" stroke="#4fc8da" stroke-width="0.75" stroke-linecap="round"/>
<line x1="293.2" y1="220.6" x2="287.5" y2="220.6" stroke="#4fc8da" stroke-width="0.75" stroke-linecap="round"/>
<line x1="293.1" y1="218.6" x2="290.5" y2="217.0" stroke="#4fc8da" stroke-width="0.75" stroke-linecap="round"/>
<line x1="295.0" y1="217.6" x2="292.1" y2="212.7" stroke="#4fc8da" stroke-width="0.75" stroke-linecap="round"/>
<line x1="296.7" y1="216.5" x2="296.7" y2="213.5" stroke="#4fc8da" stroke-width="0.75" stroke-linecap="round"/>
<line x1="298.4" y1="217.6" x2="301.3" y2="212.7" stroke="#4fc8da" stroke-width="0.75" stroke-linecap="round"/>
<line x1="300.3" y1="218.6" x2="302.9" y2="217.0" stroke="#4fc8da" stroke-width="0.75" stroke-linecap="round"/>
<circle cx="296.7" cy="220.6" r="1.5" fill="#ffffff" stroke="#bfe9f0" stroke-width="0.5"/>
<line x1="373.5" y1="222.6" x2="377.0" y2="222.6" stroke="#4fc8da" stroke-width="0.75" stroke-linecap="round"/>
<line x1="373.5" y1="223.9" x2="375.1" y2="224.8" stroke="#4fc8da" stroke-width="0.75" stroke-linecap="round"/>
<line x1="372.4" y1="224.4" x2="374.2" y2="227.4" stroke="#4fc8da" stroke-width="0.75" stroke-linecap="round"/>
<line x1="371.4" y1="225.1" x2="371.4" y2="227.0" stroke="#4fc8da" stroke-width="0.75" stroke-linecap="round"/>
<line x1="370.3" y1="224.4" x2="368.6" y2="227.4" stroke="#4fc8da" stroke-width="0.75" stroke-linecap="round"/>
<line x1="369.2" y1="223.9" x2="367.6" y2="224.8" stroke="#4fc8da" stroke-width="0.75" stroke-linecap="round"/>
<line x1="369.2" y1="222.6" x2="365.8" y2="222.6" stroke="#4fc8da" stroke-width="0.75" stroke-linecap="round"/>
<line x1="369.2" y1="221.3" x2="367.6" y2="220.4" stroke="#4fc8da" stroke-width="0.75" stroke-linecap="round"/>
<line x1="370.3" y1="220.8" x2="368.6" y2="217.7" stroke="#4fc8da" stroke-width="0.75" stroke-linecap="round"/>
<line x1="371.4" y1="220.1" x2="371.4" y2="218.2" stroke="#4fc8da" stroke-width="0.75" stroke-linecap="round"/>
<line x1="372.4" y1="220.8" x2="374.2" y2="217.7" stroke="#4fc8da" stroke-width="0.75" stroke-linecap="round"/>
<line x1="373.5" y1="221.3" x2="375.1" y2="220.4" stroke="#4fc8da" stroke-width="0.75" stroke-linecap="round"/>
<circle cx="371.4" cy="222.6" r="0.9" fill="#ffffff" stroke="#bfe9f0" stroke-width="0.5"/>
<line x1="297.9" y1="274.7" x2="301.5" y2="274.7" stroke="#4fc8da" stroke-width="0.75" stroke-linecap="round"/>
<line x1="298.0" y1="276.0" x2="299.6" y2="276.9" stroke="#4fc8da" stroke-width="0.75" stroke-linecap="round"/>
<line x1="296.8" y1="276.6" x2="298.6" y2="279.7" stroke="#4fc8da" stroke-width="0.75" stroke-linecap="round"/>
<line x1="295.7" y1="277.3" x2="295.7" y2="279.2" stroke="#4fc8da" stroke-width="0.75" stroke-linecap="round"/>
<line x1="294.6" y1="276.6" x2="292.8" y2="279.7" stroke="#4fc8da" stroke-width="0.75" stroke-linecap="round"/>
<line x1="293.5" y1="276.0" x2="291.8" y2="276.9" stroke="#4fc8da" stroke-width="0.75" stroke-linecap="round"/>
<line x1="293.5" y1="274.7" x2="289.9" y2="274.7" stroke="#4fc8da" stroke-width="0.75" stroke-linecap="round"/>
<line x1="293.5" y1="273.4" x2="291.8" y2="272.4" stroke="#4fc8da" stroke-width="0.75" stroke-linecap="round"/>
<line x1="294.6" y1="272.7" x2="292.8" y2="269.6" stroke="#4fc8da" stroke-width="0.75" stroke-linecap="round"/>
<line x1="295.7" y1="272.0" x2="295.7" y2="270.1" stroke="#4fc8da" stroke-width="0.75" stroke-linecap="round"/>
<line x1="296.8" y1="272.7" x2="298.6" y2="269.6" stroke="#4fc8da" stroke-width="0.75" stroke-linecap="round"/>
<line x1="298.0" y1="273.4" x2="299.6" y2="272.4" stroke="#4fc8da" stroke-width="0.75" stroke-linecap="round"/>
<circle cx="295.7" cy="274.7" r="0.9" fill="#ffffff" stroke="#bfe9f0" stroke-width="0.5"/>
<line x1="307.5" y1="286.4" x2="312.4" y2="286.4" stroke="#4fc8da" stroke-width="0.75" stroke-linecap="round"/>
<line x1="307.6" y1="288.2" x2="309.8" y2="289.5" stroke="#4fc8da" stroke-width="0.75" stroke-linecap="round"/>
<line x1="306.0" y1="289.0" x2="308.5" y2="293.2" stroke="#4fc8da" stroke-width="0.75" stroke-linecap="round"/>
<line x1="304.6" y1="290.0" x2="304.6" y2="292.5" stroke="#4fc8da" stroke-width="0.75" stroke-linecap="round"/>
<line x1="303.1" y1="289.0" x2="300.7" y2="293.2" stroke="#4fc8da" stroke-width="0.75" stroke-linecap="round"/>
<line x1="301.5" y1="288.2" x2="299.3" y2="289.5" stroke="#4fc8da" stroke-width="0.75" stroke-linecap="round"/>
<line x1="301.6" y1="286.4" x2="296.8" y2="286.4" stroke="#4fc8da" stroke-width="0.75" stroke-linecap="round"/>
<line x1="301.5" y1="284.7" x2="299.3" y2="283.4" stroke="#4fc8da" stroke-width="0.75" stroke-linecap="round"/>
<line x1="303.1" y1="283.9" x2="300.7" y2="279.7" stroke="#4fc8da" stroke-width="0.75" stroke-linecap="round"/>
<line x1="304.6" y1="282.9" x2="304.6" y2="280.4" stroke="#4fc8da" stroke-width="0.75" stroke-linecap="round"/>
<line x1="306.0" y1="283.9" x2="308.5" y2="279.7" stroke="#4fc8da" stroke-width="0.75" stroke-linecap="round"/>
<line x1="307.6" y1="284.7" x2="309.8" y2="283.4" stroke="#4fc8da" stroke-width="0.75" stroke-linecap="round"/>
<circle cx="304.6" cy="286.4" r="1.2" fill="#ffffff" stroke="#bfe9f0" stroke-width="0.5"/>
<line x1="369.6" y1="286.4" x2="373.2" y2="286.4" stroke="#4fc8da" stroke-width="0.75" stroke-linecap="round"/>
<line x1="369.7" y1="287.7" x2="371.3" y2="288.7" stroke="#4fc8da" stroke-width="0.75" stroke-linecap="round"/>
<line x1="368.5" y1="288.4" x2="370.3" y2="291.5" stroke="#4fc8da" stroke-width="0.75" stroke-linecap="round"/>
<line x1="367.4" y1="289.1" x2="367.4" y2="291.0" stroke="#4fc8da" stroke-width="0.75" stroke-linecap="round"/>
<line x1="366.3" y1="288.4" x2="364.5" y2="291.5" stroke="#4fc8da" stroke-width="0.75" stroke-linecap="round"/>
<line x1="365.2" y1="287.7" x2="363.5" y2="288.7" stroke="#4fc8da" stroke-width="0.75" stroke-linecap="round"/>
<line x1="365.2" y1="286.4" x2="361.6" y2="286.4" stroke="#4fc8da" stroke-width="0.75" stroke-linecap="round"/>
<line x1="365.2" y1="285.1" x2="363.5" y2="284.2" stroke="#4fc8da" stroke-width="0.75" stroke-linecap="round"/>
<line x1="366.3" y1="284.5" x2="364.5" y2="281.4" stroke="#4fc8da" stroke-width="0.75" stroke-linecap="round"/>
<line x1="367.4" y1="283.8" x2="367.4" y2="281.9" stroke="#4fc8da" stroke-width="0.75" stroke-linecap="round"/>
<line x1="368.5" y1="284.5" x2="370.3" y2="281.4" stroke="#4fc8da" stroke-width="0.75" stroke-linecap="round"/>
<line x1="369.7" y1="285.1" x2="371.3" y2="284.2" stroke="#4fc8da" stroke-width="0.75" stroke-linecap="round"/>
<circle cx="367.4" cy="286.4" r="0.9" fill="#ffffff" stroke="#bfe9f0" stroke-width="0.5"/>
<line x1="379.6" y1="278.6" x2="381.8" y2="278.6" stroke="#4fc8da" stroke-width="0.6" stroke-linecap="round"/>
<line x1="379.4" y1="279.7" x2="380.2" y2="280.6" stroke="#4fc8da" stroke-width="0.6" stroke-linecap="round"/>
<line x1="378.2" y1="280.0" x2="378.2" y2="282.2" stroke="#4fc8da" stroke-width="0.6" stroke-linecap="round"/>
<line x1="377.1" y1="279.7" x2="376.2" y2="280.6" stroke="#4fc8da" stroke-width="0.6" stroke-linecap="round"/>
<line x1="376.9" y1="278.6" x2="374.6" y2="278.6" stroke="#4fc8da" stroke-width="0.6" stroke-linecap="round"/>
<line x1="377.1" y1="277.4" x2="376.2" y2="276.6" stroke="#4fc8da" stroke-width="0.6" stroke-linecap="round"/>
<line x1="378.2" y1="277.2" x2="378.2" y2="275.0" stroke="#4fc8da" stroke-width="0.6" stroke-linecap="round"/>
<line x1="379.4" y1="277.4" x2="380.2" y2="276.6" stroke="#4fc8da" stroke-width="0.6" stroke-linecap="round"/>
<circle cx="378.2" cy="278.6" r="0.6" fill="#ffffff" stroke="#bfe9f0" stroke-width="0.5"/>
<polygon points="372.5,261.9 362.8,278.7 345.9,288.4 326.5,288.4 309.6,278.7 299.9,261.9 299.9,242.6 309.6,225.8 326.5,216.1 345.9,216.1 362.8,225.8 372.5,242.6" fill="#a9daf1" stroke="#4dbbe6" stroke-width="2"/>
<polygon points="368.5,260.9 359.9,275.8 344.9,284.4 327.5,284.4 312.5,275.8 303.8,260.9 303.8,243.6 312.5,228.7 327.5,220.1 344.9,220.1 359.9,228.7 368.5,243.6" fill="#b0ddf2" />
<polygon points="344.2,226.7 349.7,224.8 351.7,231.8 347.0,234.2" fill="#a9d392" /><polygon points="345.0,227.5 349.2,225.7 350.5,231.0 347.4,233.0" fill="#c5e2b0" />
<polygon points="314.2,266.0 319.7,264.0 321.7,271.1 316.9,273.5" fill="#a9d392" /><polygon points="315.0,266.8 319.1,265.0 320.5,270.3 317.3,272.3" fill="#c5e2b0" />
<polygon points="360.6,252.7 366.1,250.7 368.0,257.8 363.3,260.1" fill="#a9d392" /><polygon points="361.3,253.4 365.5,251.7 366.8,257.0 363.7,258.9" fill="#c5e2b0" />
<polygon points="342.3,273.5 347.8,271.5 349.7,278.6 345.0,280.9" fill="#a9d392" /><polygon points="343.1,274.3 347.2,272.5 348.6,277.8 345.4,279.8" fill="#c5e2b0" />
<polygon points="322.4,238.9 316.9,236.9 315.0,244.0 319.7,246.4" fill="#a9d392" /><polygon points="321.7,239.7 317.5,237.9 316.1,243.2 319.3,245.2" fill="#c5e2b0" />
<ellipse cx="338.9" cy="223.6" rx="2.9" ry="3.4" fill="#c9b860" transform="rotate(-25 338.9 223.6)"/>
<ellipse cx="338.5" cy="223.3" rx="2.2" ry="2.7" fill="#e3d37e" transform="rotate(-25 338.9 223.6)"/>
<ellipse cx="349.7" cy="242.4" rx="2.9" ry="3.4" fill="#c9b860" transform="rotate(-25 349.7 242.4)"/>
<ellipse cx="349.3" cy="242.1" rx="2.2" ry="2.7" fill="#e3d37e" transform="rotate(-25 349.7 242.4)"/>
<ellipse cx="316.5" cy="250.7" rx="2.9" ry="3.4" fill="#c9b860" transform="rotate(-25 316.5 250.7)"/>
<ellipse cx="316.1" cy="250.4" rx="2.2" ry="2.7" fill="#e3d37e" transform="rotate(-25 316.5 250.7)"/>
<ellipse cx="323.6" cy="279.0" rx="2.9" ry="3.4" fill="#c9b860" transform="rotate(-25 323.6 279.0)"/>
<ellipse cx="323.2" cy="278.7" rx="2.2" ry="2.7" fill="#e3d37e" transform="rotate(-25 323.6 279.0)"/>
<ellipse cx="354.7" cy="273.9" rx="2.9" ry="3.4" fill="#c9b860" transform="rotate(-25 354.7 273.9)"/>
<ellipse cx="354.3" cy="273.6" rx="2.2" ry="2.7" fill="#e3d37e" transform="rotate(-25 354.7 273.9)"/>
<text transform="translate(333.0,229.9) rotate(42) scale(0.92,1.0)" font-size="10.5" font-weight="bold" text-anchor="middle" dominant-baseline="central" fill="#c0332f">%</text>
<text transform="translate(309.9,254.6) rotate(42) scale(0.92,1.0)" font-size="10.5" font-weight="bold" text-anchor="middle" dominant-baseline="central" fill="#c0332f">%</text>
<text transform="translate(361.3,241.3) rotate(42) scale(0.92,1.0)" font-size="10.5" font-weight="bold" text-anchor="middle" dominant-baseline="central" fill="#c0332f">%</text>
<text transform="translate(357.4,260.9) rotate(42) scale(0.92,1.0)" font-size="10.5" font-weight="bold" text-anchor="middle" dominant-baseline="central" fill="#c0332f">%</text>
<text transform="translate(332.3,275.8) rotate(42) scale(0.92,1.0)" font-size="10.5" font-weight="bold" text-anchor="middle" dominant-baseline="central" fill="#c0332f">%</text>
<ellipse cx="318.5" cy="233.0" rx="7.4" ry="4.9" fill="#edf7f1" transform="rotate(-28 318.5 233.0)"/>
<ellipse cx="318.0" cy="233.8" rx="4.6" ry="2.6" fill="#dff0e6" transform="rotate(-28 318.5 233.0)"/>
<polygon points="323.6,251.5 331.5,239.3 338.9,257.0 338.9,269.7 323.6,262.5" fill="#cdbf92" />
<polygon points="338.9,257.0 349.9,252.7 349.9,262.5 338.9,269.7" fill="#ad9e72" />
<polygon points="326.4,246.8 332.3,238.5 350.3,251.5 338.9,258.2" fill="#55697a" />
<polygon points="323.6,251.5 326.8,246.4 338.9,257.8 338.5,259.3" fill="#6f8594" />
<polygon points="326.0,252.7 327.7,253.6 327.7,256.6 326.0,255.6" fill="#3f7fd0" />
<polygon points="330.1,254.8 331.9,255.8 331.9,258.7 330.1,257.8" fill="#3f7fd0" />
<polygon points="334.2,257.0 336.0,258.0 336.0,260.9 334.2,259.9" fill="#3f7fd0" />
<polygon points="326.0,260.1 327.7,261.1 327.7,264.0 326.0,263.1" fill="#3f7fd0" />
<polygon points="330.1,262.3 331.9,263.3 331.9,266.2 330.1,265.2" fill="#3f7fd0" />
<polygon points="334.2,264.4 336.0,265.4 336.0,268.4 334.2,267.4" fill="#3f7fd0" />
<polygon points="341.3,258.9 343.1,258.2 343.1,261.1 341.3,261.9" fill="#3a6fb8" />
<polygon points="345.2,257.2 347.0,256.4 347.0,259.3 345.2,260.1" fill="#3a6fb8" />
<polygon points="343.3,263.3 345.2,262.3 345.2,266.0 343.3,267.0" fill="#7b6a49" />
</g>
<g id="prices">
<polygon points="549.9,238.4 561.7,245.3 561.7,267.3 549.9,260.4" fill="#efeedd" />
<polygon points="561.7,245.3 615.3,213.8 615.3,235.8 561.7,267.3" fill="#dddcc8" />
<polyline points="549.9,240.2 561.7,247.0 615.3,215.6" fill="none" stroke="#cfceb6" stroke-width="0.35"/>
<polyline points="549.9,241.9 561.7,248.8 615.3,217.4" fill="none" stroke="#cfceb6" stroke-width="0.35"/>
<polyline points="549.9,243.7 561.7,250.6 615.3,219.1" fill="none" stroke="#cfceb6" stroke-width="0.35"/>
<polyline points="549.9,245.5 561.7,252.3 615.3,220.9" fill="none" stroke="#cfceb6" stroke-width="0.35"/>
<polyline points="549.9,247.2 561.7,254.1 615.3,222.7" fill="none" stroke="#cfceb6" stroke-width="0.35"/>
<polyline points="549.9,249.0 561.7,255.9 615.3,224.4" fill="none" stroke="#cfceb6" stroke-width="0.35"/>
<polyline points="549.9,250.8 561.7,257.7 615.3,226.2" fill="none" stroke="#cfceb6" stroke-width="0.35"/>
<polyline points="549.9,252.5 561.7,259.4 615.3,228.0" fill="none" stroke="#cfceb6" stroke-width="0.35"/>
<polyline points="549.9,254.3 561.7,261.2 615.3,229.8" fill="none" stroke="#cfceb6" stroke-width="0.35"/>
<polyline points="549.9,256.1 561.7,263.0 615.3,231.5" fill="none" stroke="#cfceb6" stroke-width="0.35"/>
<polyline points="549.9,257.8 561.7,264.7 615.3,233.3" fill="none" stroke="#cfceb6" stroke-width="0.35"/>
<polygon points="549.9,238.4 603.5,207.0 615.3,213.8 561.7,245.3" fill="#b9d27e" />
<polygon points="552.2,238.5 566.9,229.8 576.3,235.3 561.6,244.0" fill="#e4eec6" />
<ellipse cx="564.3" cy="236.9" rx="2.2" ry="1.3" fill="#c9dc95"/>
<ellipse cx="564.3" cy="236.9" rx="0.9" ry="0.55" fill="#8fb24f"/>
<polygon points="571.7,227.0 586.2,218.5 595.7,224.0 581.2,232.5" fill="#e4eec6" />
<ellipse cx="583.7" cy="225.5" rx="2.2" ry="1.3" fill="#c9dc95"/>
<ellipse cx="583.7" cy="225.5" rx="0.9" ry="0.55" fill="#8fb24f"/>
<polygon points="591.0,215.7 603.7,208.3 613.1,213.8 600.5,221.2" fill="#e4eec6" />
<ellipse cx="602.1" cy="214.7" rx="2.2" ry="1.3" fill="#c9dc95"/>
<ellipse cx="602.1" cy="214.7" rx="0.9" ry="0.55" fill="#8fb24f"/>
<polygon points="566.3,228.8 570.0,226.6 581.8,233.5 578.1,235.7" fill="#f2d75c" />
<polygon points="566.9,228.4 569.4,227.0 581.2,233.9 578.7,235.3" fill="#ffffff" />
<polygon points="578.1,235.7 581.8,233.5 581.8,255.5 578.1,257.7" fill="#f2d75c" />
<polygon points="578.7,235.3 581.2,233.9 581.2,255.9 578.7,257.3" fill="#fbfbf4" />
<polygon points="585.6,217.5 589.3,215.3 601.1,222.2 597.4,224.4" fill="#f2d75c" />
<polygon points="586.2,217.1 588.7,215.7 600.5,222.5 598.0,224.0" fill="#ffffff" />
<polygon points="597.4,224.4 601.1,222.2 601.1,244.2 597.4,246.4" fill="#f2d75c" />
<polygon points="598.0,224.0 600.5,222.5 600.5,244.6 598.0,246.0" fill="#fbfbf4" />
<path d="M609.0,238.8 v1.9 a4.8,2.8 0 0 0 9.6,0 v-1.9 z" fill="#e3a12b"/>
<ellipse cx="613.8" cy="238.8" rx="4.8" ry="2.8" fill="#f6bd38"/>
<ellipse cx="613.8" cy="238.8" rx="3.7" ry="2.2" fill="#fbd24e"/>
<path d="M609.0,236.9 v1.9 a4.8,2.8 0 0 0 9.6,0 v-1.9 z" fill="#e3a12b"/>
<ellipse cx="613.8" cy="236.9" rx="4.8" ry="2.8" fill="#f6bd38"/>
<ellipse cx="613.8" cy="236.9" rx="3.7" ry="2.2" fill="#fbd24e"/>
<path d="M609.0,235.0 v1.9 a4.8,2.8 0 0 0 9.6,0 v-1.9 z" fill="#e3a12b"/>
<ellipse cx="613.8" cy="235.0" rx="4.8" ry="2.8" fill="#f6bd38"/>
<ellipse cx="613.8" cy="235.0" rx="3.7" ry="2.2" fill="#fbd24e"/>
<path d="M609.0,233.1 v1.9 a4.8,2.8 0 0 0 9.6,0 v-1.9 z" fill="#e3a12b"/>
<ellipse cx="613.8" cy="233.1" rx="4.8" ry="2.8" fill="#f6bd38"/>
<ellipse cx="613.8" cy="233.1" rx="3.7" ry="2.2" fill="#fbd24e"/>
<path d="M609.0,231.2 v1.9 a4.8,2.8 0 0 0 9.6,0 v-1.9 z" fill="#e3a12b"/>
<ellipse cx="613.8" cy="231.2" rx="4.8" ry="2.8" fill="#f6bd38"/>
<ellipse cx="613.8" cy="231.2" rx="3.7" ry="2.2" fill="#fbd24e"/>
<path d="M609.0,229.3 v1.9 a4.8,2.8 0 0 0 9.6,0 v-1.9 z" fill="#e3a12b"/>
<ellipse cx="613.8" cy="229.3" rx="4.8" ry="2.8" fill="#f6bd38"/>
<ellipse cx="613.8" cy="229.3" rx="3.7" ry="2.2" fill="#fbd24e"/>
<path d="M609.0,227.4 v1.9 a4.8,2.8 0 0 0 9.6,0 v-1.9 z" fill="#e3a12b"/>
<ellipse cx="613.8" cy="227.4" rx="4.8" ry="2.8" fill="#f6bd38"/>
<ellipse cx="613.8" cy="227.4" rx="3.7" ry="2.2" fill="#fbd24e"/>
<path d="M615.8,241.5 v1.9 a4.6,2.7 0 0 0 9.2,0 v-1.9 z" fill="#e3a12b"/>
<ellipse cx="620.4" cy="241.5" rx="4.6" ry="2.7" fill="#f6bd38"/>
<ellipse cx="620.4" cy="241.5" rx="3.6" ry="2.1" fill="#fbd24e"/>
<path d="M615.8,239.6 v1.9 a4.6,2.7 0 0 0 9.2,0 v-1.9 z" fill="#e3a12b"/>
<ellipse cx="620.4" cy="239.6" rx="4.6" ry="2.7" fill="#f6bd38"/>
<ellipse cx="620.4" cy="239.6" rx="3.6" ry="2.1" fill="#fbd24e"/>
<path d="M615.8,237.7 v1.9 a4.6,2.7 0 0 0 9.2,0 v-1.9 z" fill="#e3a12b"/>
<ellipse cx="620.4" cy="237.7" rx="4.6" ry="2.7" fill="#f6bd38"/>
<ellipse cx="620.4" cy="237.7" rx="3.6" ry="2.1" fill="#fbd24e"/>
<path d="M615.8,235.8 v1.9 a4.6,2.7 0 0 0 9.2,0 v-1.9 z" fill="#e3a12b"/>
<ellipse cx="620.4" cy="235.8" rx="4.6" ry="2.7" fill="#f6bd38"/>
<ellipse cx="620.4" cy="235.8" rx="3.6" ry="2.1" fill="#fbd24e"/>
<polygon points="581.3,252.2 593.1,259.0 593.1,268.9 581.3,262.0" fill="#efeedd" />
<polygon points="593.1,259.0 613.8,247.2 613.8,257.1 593.1,268.9" fill="#dddcc8" />
<polyline points="581.3,253.9 593.1,260.8 613.8,249.0" fill="none" stroke="#cfceb6" stroke-width="0.35"/>
<polyline points="581.3,255.7 593.1,262.6 613.8,250.8" fill="none" stroke="#cfceb6" stroke-width="0.35"/>
<polyline points="581.3,257.5 593.1,264.3 613.8,252.5" fill="none" stroke="#cfceb6" stroke-width="0.35"/>
<polyline points="581.3,259.2 593.1,266.1 613.8,254.3" fill="none" stroke="#cfceb6" stroke-width="0.35"/>
<polygon points="581.3,252.2 602.0,240.4 613.8,247.2 593.1,259.0" fill="#b9d27e" />
<polygon points="582.9,252.6 592.9,246.9 602.4,252.4 592.4,258.1" fill="#e4eec6" />
<ellipse cx="592.7" cy="252.5" rx="2.2" ry="1.3" fill="#c9dc95"/>
<ellipse cx="592.7" cy="252.5" rx="0.9" ry="0.55" fill="#8fb24f"/>
<polygon points="594.8,245.8 602.7,241.3 612.2,246.8 604.2,251.3" fill="#e4eec6" />
<ellipse cx="603.5" cy="246.3" rx="2.2" ry="1.3" fill="#c9dc95"/>
<ellipse cx="603.5" cy="246.3" rx="0.9" ry="0.55" fill="#8fb24f"/>
<polygon points="592.0,246.1 593.4,245.3 605.2,252.1 603.8,253.0" fill="#f2d75c" />
<polygon points="592.2,245.9 593.2,245.4 605.0,252.3 604.0,252.8" fill="#ffffff" />
<polygon points="603.8,253.0 605.2,252.1 605.2,262.0 603.8,262.8" fill="#f2d75c" />
<polygon points="604.0,252.8 605.0,252.3 605.0,262.1 604.0,262.6" fill="#fbfbf4" />
<path d="M571.6,268.3 v1.9 a4.8,2.8 0 0 0 9.6,0 v-1.9 z" fill="#e3a12b"/>
<ellipse cx="576.4" cy="268.3" rx="4.8" ry="2.8" fill="#f6bd38"/>
<ellipse cx="576.4" cy="268.3" rx="3.7" ry="2.2" fill="#fbd24e"/>
<path d="M571.6,266.4 v1.9 a4.8,2.8 0 0 0 9.6,0 v-1.9 z" fill="#e3a12b"/>
<ellipse cx="576.4" cy="266.4" rx="4.8" ry="2.8" fill="#f6bd38"/>
<ellipse cx="576.4" cy="266.4" rx="3.7" ry="2.2" fill="#fbd24e"/>
<path d="M571.6,264.5 v1.9 a4.8,2.8 0 0 0 9.6,0 v-1.9 z" fill="#e3a12b"/>
<ellipse cx="576.4" cy="264.5" rx="4.8" ry="2.8" fill="#f6bd38"/>
<ellipse cx="576.4" cy="264.5" rx="3.7" ry="2.2" fill="#fbd24e"/>
<path d="M571.6,262.6 v1.9 a4.8,2.8 0 0 0 9.6,0 v-1.9 z" fill="#e3a12b"/>
<ellipse cx="576.4" cy="262.6" rx="4.8" ry="2.8" fill="#f6bd38"/>
<ellipse cx="576.4" cy="262.6" rx="3.7" ry="2.2" fill="#fbd24e"/>
<path d="M571.6,260.7 v1.9 a4.8,2.8 0 0 0 9.6,0 v-1.9 z" fill="#e3a12b"/>
<ellipse cx="576.4" cy="260.7" rx="4.8" ry="2.8" fill="#f6bd38"/>
<ellipse cx="576.4" cy="260.7" rx="3.7" ry="2.2" fill="#fbd24e"/>
<path d="M571.6,258.8 v1.9 a4.8,2.8 0 0 0 9.6,0 v-1.9 z" fill="#e3a12b"/>
<ellipse cx="576.4" cy="258.8" rx="4.8" ry="2.8" fill="#f6bd38"/>
<ellipse cx="576.4" cy="258.8" rx="3.7" ry="2.2" fill="#fbd24e"/>
<path d="M571.6,256.9 v1.9 a4.8,2.8 0 0 0 9.6,0 v-1.9 z" fill="#e3a12b"/>
<ellipse cx="576.4" cy="256.9" rx="4.8" ry="2.8" fill="#f6bd38"/>
<ellipse cx="576.4" cy="256.9" rx="3.7" ry="2.2" fill="#fbd24e"/>
<path d="M571.6,255.0 v1.9 a4.8,2.8 0 0 0 9.6,0 v-1.9 z" fill="#e3a12b"/>
<ellipse cx="576.4" cy="255.0" rx="4.8" ry="2.8" fill="#f6bd38"/>
<ellipse cx="576.4" cy="255.0" rx="3.7" ry="2.2" fill="#fbd24e"/>
<path d="M571.6,253.1 v1.9 a4.8,2.8 0 0 0 9.6,0 v-1.9 z" fill="#e3a12b"/>
<ellipse cx="576.4" cy="253.1" rx="4.8" ry="2.8" fill="#f6bd38"/>
<ellipse cx="576.4" cy="253.1" rx="3.7" ry="2.2" fill="#fbd24e"/>
<path d="M571.6,251.2 v1.9 a4.8,2.8 0 0 0 9.6,0 v-1.9 z" fill="#e3a12b"/>
<ellipse cx="576.4" cy="251.2" rx="4.8" ry="2.8" fill="#f6bd38"/>
<ellipse cx="576.4" cy="251.2" rx="3.7" ry="2.2" fill="#fbd24e"/>
<path d="M565.3,274.2 v1.9 a4.8,2.8 0 0 0 9.6,0 v-1.9 z" fill="#e3a12b"/>
<ellipse cx="570.1" cy="274.2" rx="4.8" ry="2.8" fill="#f6bd38"/>
<ellipse cx="570.1" cy="274.2" rx="3.7" ry="2.2" fill="#fbd24e"/>
<path d="M565.3,272.3 v1.9 a4.8,2.8 0 0 0 9.6,0 v-1.9 z" fill="#e3a12b"/>
<ellipse cx="570.1" cy="272.3" rx="4.8" ry="2.8" fill="#f6bd38"/>
<ellipse cx="570.1" cy="272.3" rx="3.7" ry="2.2" fill="#fbd24e"/>
<path d="M565.3,270.4 v1.9 a4.8,2.8 0 0 0 9.6,0 v-1.9 z" fill="#e3a12b"/>
<ellipse cx="570.1" cy="270.4" rx="4.8" ry="2.8" fill="#f6bd38"/>
<ellipse cx="570.1" cy="270.4" rx="3.7" ry="2.2" fill="#fbd24e"/>
<path d="M565.3,268.5 v1.9 a4.8,2.8 0 0 0 9.6,0 v-1.9 z" fill="#e3a12b"/>
<ellipse cx="570.1" cy="268.5" rx="4.8" ry="2.8" fill="#f6bd38"/>
<ellipse cx="570.1" cy="268.5" rx="3.7" ry="2.2" fill="#fbd24e"/>
<path d="M565.3,266.6 v1.9 a4.8,2.8 0 0 0 9.6,0 v-1.9 z" fill="#e3a12b"/>
<ellipse cx="570.1" cy="266.6" rx="4.8" ry="2.8" fill="#f6bd38"/>
<ellipse cx="570.1" cy="266.6" rx="3.7" ry="2.2" fill="#fbd24e"/>
<path d="M565.3,264.7 v1.9 a4.8,2.8 0 0 0 9.6,0 v-1.9 z" fill="#e3a12b"/>
<ellipse cx="570.1" cy="264.7" rx="4.8" ry="2.8" fill="#f6bd38"/>
<ellipse cx="570.1" cy="264.7" rx="3.7" ry="2.2" fill="#fbd24e"/>
<path d="M565.3,262.8 v1.9 a4.8,2.8 0 0 0 9.6,0 v-1.9 z" fill="#e3a12b"/>
<ellipse cx="570.1" cy="262.8" rx="4.8" ry="2.8" fill="#f6bd38"/>
<ellipse cx="570.1" cy="262.8" rx="3.7" ry="2.2" fill="#fbd24e"/>
<path d="M565.3,260.9 v1.9 a4.8,2.8 0 0 0 9.6,0 v-1.9 z" fill="#e3a12b"/>
<ellipse cx="570.1" cy="260.9" rx="4.8" ry="2.8" fill="#f6bd38"/>
<ellipse cx="570.1" cy="260.9" rx="3.7" ry="2.2" fill="#fbd24e"/>
<path d="M565.3,259.0 v1.9 a4.8,2.8 0 0 0 9.6,0 v-1.9 z" fill="#e3a12b"/>
<ellipse cx="570.1" cy="259.0" rx="4.8" ry="2.8" fill="#f6bd38"/>
<ellipse cx="570.1" cy="259.0" rx="3.7" ry="2.2" fill="#fbd24e"/>
<path d="M565.3,257.1 v1.9 a4.8,2.8 0 0 0 9.6,0 v-1.9 z" fill="#e3a12b"/>
<ellipse cx="570.1" cy="257.1" rx="4.8" ry="2.8" fill="#f6bd38"/>
<ellipse cx="570.1" cy="257.1" rx="3.7" ry="2.2" fill="#fbd24e"/>
<path d="M577.9,272.8 v1.9 a4.8,2.8 0 0 0 9.6,0 v-1.9 z" fill="#e3a12b"/>
<ellipse cx="582.7" cy="272.8" rx="4.8" ry="2.8" fill="#f6bd38"/>
<ellipse cx="582.7" cy="272.8" rx="3.7" ry="2.2" fill="#fbd24e"/>
<path d="M577.9,270.9 v1.9 a4.8,2.8 0 0 0 9.6,0 v-1.9 z" fill="#e3a12b"/>
<ellipse cx="582.7" cy="270.9" rx="4.8" ry="2.8" fill="#f6bd38"/>
<ellipse cx="582.7" cy="270.9" rx="3.7" ry="2.2" fill="#fbd24e"/>
<path d="M577.9,269.0 v1.9 a4.8,2.8 0 0 0 9.6,0 v-1.9 z" fill="#e3a12b"/>
<ellipse cx="582.7" cy="269.0" rx="4.8" ry="2.8" fill="#f6bd38"/>
<ellipse cx="582.7" cy="269.0" rx="3.7" ry="2.2" fill="#fbd24e"/>
<path d="M577.9,267.1 v1.9 a4.8,2.8 0 0 0 9.6,0 v-1.9 z" fill="#e3a12b"/>
<ellipse cx="582.7" cy="267.1" rx="4.8" ry="2.8" fill="#f6bd38"/>
<ellipse cx="582.7" cy="267.1" rx="3.7" ry="2.2" fill="#fbd24e"/>
<path d="M577.9,265.2 v1.9 a4.8,2.8 0 0 0 9.6,0 v-1.9 z" fill="#e3a12b"/>
<ellipse cx="582.7" cy="265.2" rx="4.8" ry="2.8" fill="#f6bd38"/>
<ellipse cx="582.7" cy="265.2" rx="3.7" ry="2.2" fill="#fbd24e"/>
<path d="M593.8,269.8 v1.9 a4.6,2.7 0 0 0 9.2,0 v-1.9 z" fill="#e3a12b"/>
<ellipse cx="598.4" cy="269.8" rx="4.6" ry="2.7" fill="#f6bd38"/>
<ellipse cx="598.4" cy="269.8" rx="3.6" ry="2.1" fill="#fbd24e"/>
<path d="M593.8,267.9 v1.9 a4.6,2.7 0 0 0 9.2,0 v-1.9 z" fill="#e3a12b"/>
<ellipse cx="598.4" cy="267.9" rx="4.6" ry="2.7" fill="#f6bd38"/>
<ellipse cx="598.4" cy="267.9" rx="3.6" ry="2.1" fill="#fbd24e"/>
<path d="M593.8,266.0 v1.9 a4.6,2.7 0 0 0 9.2,0 v-1.9 z" fill="#e3a12b"/>
<ellipse cx="598.4" cy="266.0" rx="4.6" ry="2.7" fill="#f6bd38"/>
<ellipse cx="598.4" cy="266.0" rx="3.6" ry="2.1" fill="#fbd24e"/>
<path d="M593.8,264.1 v1.9 a4.6,2.7 0 0 0 9.2,0 v-1.9 z" fill="#e3a12b"/>
<ellipse cx="598.4" cy="264.1" rx="4.6" ry="2.7" fill="#f6bd38"/>
<ellipse cx="598.4" cy="264.1" rx="3.6" ry="2.1" fill="#fbd24e"/>
<path d="M593.8,262.2 v1.9 a4.6,2.7 0 0 0 9.2,0 v-1.9 z" fill="#e3a12b"/>
<ellipse cx="598.4" cy="262.2" rx="4.6" ry="2.7" fill="#f6bd38"/>
<ellipse cx="598.4" cy="262.2" rx="3.6" ry="2.1" fill="#fbd24e"/>
<path d="M554.7,282.0 v1.3 a5.0,3.0 0 0 0 10.0,0 v-1.3 z" fill="#e3a12b"/>
<ellipse cx="559.7" cy="282.0" rx="5.0" ry="3.0" fill="#f6bd38"/>
<ellipse cx="559.7" cy="282.0" rx="3.9" ry="2.3" fill="#fbd24e"/>
<path d="M572.6,280.4 v1.3 a5.0,3.0 0 0 0 10.0,0 v-1.3 z" fill="#e3a12b"/>
<ellipse cx="577.6" cy="280.4" rx="5.0" ry="3.0" fill="#f6bd38"/>
<ellipse cx="577.6" cy="280.4" rx="3.9" ry="2.3" fill="#fbd24e"/>
<path d="M565.1,290.5 v1.3 a5.0,3.0 0 0 0 10.0,0 v-1.3 z" fill="#e3a12b"/>
<ellipse cx="570.1" cy="290.5" rx="5.0" ry="3.0" fill="#f6bd38"/>
<ellipse cx="570.1" cy="290.5" rx="3.9" ry="2.3" fill="#fbd24e"/>
<path d="M571.0,299.7 v1.3 a5.0,3.0 0 0 0 10.0,0 v-1.3 z" fill="#e3a12b"/>
<ellipse cx="576.0" cy="299.7" rx="5.0" ry="3.0" fill="#f6bd38"/>
<ellipse cx="576.0" cy="299.7" rx="3.9" ry="2.3" fill="#fbd24e"/>
<path d="M577.7,298.1 v1.3 a5.0,3.0 0 0 0 10.0,0 v-1.3 z" fill="#e3a12b"/>
<ellipse cx="582.7" cy="298.1" rx="5.0" ry="3.0" fill="#f6bd38"/>
<ellipse cx="582.7" cy="298.1" rx="3.9" ry="2.3" fill="#fbd24e"/>
<polygon points="600.5,249.8 602.9,247.0 633.3,230.1 640.6,234.5 640.6,256.5 624.5,263.9" fill="#f0a375" />
<polygon points="624.5,262.4 640.6,254.1 640.6,276.1 624.5,285.2" fill="#a9613f" />
<polygon points="624.5,269.8 640.6,261.6 640.6,263.2 624.5,271.4" fill="#8e4e31" />
<polygon points="600.5,250.6 601.7,248.2 604.4,248.6 624.5,261.6 624.5,285.2 600.9,272.2" fill="#b9643e" />
<polygon points="602.5,252.2 604.0,251.0 622.9,263.2 622.9,282.0 602.9,270.6" fill="#dcc9a2" />
<rect x="606.8" y="258.0" width="0.9" height="1.2" fill="#b89c6a"/>
<rect x="611.7" y="263.9" width="0.9" height="1.2" fill="#b89c6a"/>
<rect x="616.6" y="269.8" width="0.9" height="1.2" fill="#b89c6a"/>
<rect x="608.8" y="266.9" width="0.9" height="1.2" fill="#b89c6a"/>
<rect x="618.6" y="276.7" width="0.9" height="1.2" fill="#b89c6a"/>
<rect x="613.7" y="272.8" width="0.9" height="1.2" fill="#b89c6a"/>
<rect x="605.8" y="263.9" width="0.9" height="1.2" fill="#b89c6a"/>
<rect x="619.6" y="267.9" width="0.9" height="1.2" fill="#b89c6a"/>
<polygon points="582.3,290.7 602.6,279.5 625.5,291.6 623.8,295.9 619.9,296.8 604.8,305.0 584.3,294.2" fill="#b9643e" />
<polygon points="582.3,288.1 602.6,276.9 625.5,289.0 623.8,293.3 619.9,294.2 604.8,302.4 584.3,291.6" fill="#c9754e" />
<polygon points="586.2,288.6 602.6,279.5 621.6,289.4 619.0,292.0 604.8,299.4 587.1,290.3" fill="#dcc9a2" />
<rect x="594.0" y="287.5" width="1.0" height="0.8" fill="#b89c6a"/>
<rect x="600.5" y="284.2" width="1.0" height="0.8" fill="#b89c6a"/>
<rect x="607.0" y="290.7" width="1.0" height="0.8" fill="#b89c6a"/>
<rect x="602.6" y="295.0" width="1.0" height="0.8" fill="#b89c6a"/>
<rect x="612.4" y="289.6" width="1.0" height="0.8" fill="#b89c6a"/>
<rect x="597.2" y="291.8" width="1.0" height="0.8" fill="#b89c6a"/>
<polygon points="641.8,234.5 655.5,234.5 656.3,240.0 662.2,249.2 662.2,287.5 653.9,292.6 645.3,291.8 637.0,286.7 637.0,249.2 641.0,240.0" fill="#eeeeef" />
<polygon points="648.4,234.5 655.5,234.5 656.3,240.0 662.2,249.2 662.2,287.5 653.9,292.6 649.6,292.2 649.6,249.2" fill="#e1e2e4" />
<polygon points="641.8,234.5 648.4,234.5 649.6,249.2 649.6,292.2 645.3,291.8 637.0,286.7 637.0,249.2 641.0,240.0" fill="#fbfbfb" />
<polygon points="637.0,249.2 641.0,240.0 642.9,240.8 639.8,249.8 639.8,288.3 637.0,286.7" fill="#f1f1f2" />
<path d="M640.4,226.6 v7.6 a8,3.6 0 0 0 16,0 v-7.6 z" fill="#3f9994"/>
<path d="M640.4,226.6 v7.6 a8,3.6 0 0 0 8,3.6 v-7.6 z" fill="#4fb0aa"/>
<ellipse cx="648.4" cy="226.6" rx="8.0" ry="4.2" fill="#6cc3bd"/>
<path d="M631.9,293.0 v1.9 a4.8,2.8 0 0 0 9.6,0 v-1.9 z" fill="#e3a12b"/>
<ellipse cx="636.7" cy="293.0" rx="4.8" ry="2.8" fill="#f6bd38"/>
<ellipse cx="636.7" cy="293.0" rx="3.7" ry="2.2" fill="#fbd24e"/>
<path d="M631.9,291.1 v1.9 a4.8,2.8 0 0 0 9.6,0 v-1.9 z" fill="#e3a12b"/>
<ellipse cx="636.7" cy="291.1" rx="4.8" ry="2.8" fill="#f6bd38"/>
<ellipse cx="636.7" cy="291.1" rx="3.7" ry="2.2" fill="#fbd24e"/>
<path d="M631.9,289.2 v1.9 a4.8,2.8 0 0 0 9.6,0 v-1.9 z" fill="#e3a12b"/>
<ellipse cx="636.7" cy="289.2" rx="4.8" ry="2.8" fill="#f6bd38"/>
<ellipse cx="636.7" cy="289.2" rx="3.7" ry="2.2" fill="#fbd24e"/>
<path d="M631.9,287.3 v1.9 a4.8,2.8 0 0 0 9.6,0 v-1.9 z" fill="#e3a12b"/>
<ellipse cx="636.7" cy="287.3" rx="4.8" ry="2.8" fill="#f6bd38"/>
<ellipse cx="636.7" cy="287.3" rx="3.7" ry="2.2" fill="#fbd24e"/>
<path d="M631.9,285.4 v1.9 a4.8,2.8 0 0 0 9.6,0 v-1.9 z" fill="#e3a12b"/>
<ellipse cx="636.7" cy="285.4" rx="4.8" ry="2.8" fill="#f6bd38"/>
<ellipse cx="636.7" cy="285.4" rx="3.7" ry="2.2" fill="#fbd24e"/>
<path d="M631.9,283.5 v1.9 a4.8,2.8 0 0 0 9.6,0 v-1.9 z" fill="#e3a12b"/>
<ellipse cx="636.7" cy="283.5" rx="4.8" ry="2.8" fill="#f6bd38"/>
<ellipse cx="636.7" cy="283.5" rx="3.7" ry="2.2" fill="#fbd24e"/>
<path d="M631.9,281.6 v1.9 a4.8,2.8 0 0 0 9.6,0 v-1.9 z" fill="#e3a12b"/>
<ellipse cx="636.7" cy="281.6" rx="4.8" ry="2.8" fill="#f6bd38"/>
<ellipse cx="636.7" cy="281.6" rx="3.7" ry="2.2" fill="#fbd24e"/>
<path d="M631.9,279.7 v1.9 a4.8,2.8 0 0 0 9.6,0 v-1.9 z" fill="#e3a12b"/>
<ellipse cx="636.7" cy="279.7" rx="4.8" ry="2.8" fill="#f6bd38"/>
<ellipse cx="636.7" cy="279.7" rx="3.7" ry="2.2" fill="#fbd24e"/>
<path d="M631.9,277.8 v1.9 a4.8,2.8 0 0 0 9.6,0 v-1.9 z" fill="#e3a12b"/>
<ellipse cx="636.7" cy="277.8" rx="4.8" ry="2.8" fill="#f6bd38"/>
<ellipse cx="636.7" cy="277.8" rx="3.7" ry="2.2" fill="#fbd24e"/>
<path d="M631.9,275.9 v1.9 a4.8,2.8 0 0 0 9.6,0 v-1.9 z" fill="#e3a12b"/>
<ellipse cx="636.7" cy="275.9" rx="4.8" ry="2.8" fill="#f6bd38"/>
<ellipse cx="636.7" cy="275.9" rx="3.7" ry="2.2" fill="#fbd24e"/>
<path d="M638.5,298.5 v1.9 a4.8,2.8 0 0 0 9.6,0 v-1.9 z" fill="#e3a12b"/>
<ellipse cx="643.3" cy="298.5" rx="4.8" ry="2.8" fill="#f6bd38"/>
<ellipse cx="643.3" cy="298.5" rx="3.7" ry="2.2" fill="#fbd24e"/>
<path d="M638.5,296.6 v1.9 a4.8,2.8 0 0 0 9.6,0 v-1.9 z" fill="#e3a12b"/>
<ellipse cx="643.3" cy="296.6" rx="4.8" ry="2.8" fill="#f6bd38"/>
<ellipse cx="643.3" cy="296.6" rx="3.7" ry="2.2" fill="#fbd24e"/>
<path d="M638.5,294.7 v1.9 a4.8,2.8 0 0 0 9.6,0 v-1.9 z" fill="#e3a12b"/>
<ellipse cx="643.3" cy="294.7" rx="4.8" ry="2.8" fill="#f6bd38"/>
<ellipse cx="643.3" cy="294.7" rx="3.7" ry="2.2" fill="#fbd24e"/>
<path d="M638.5,292.8 v1.9 a4.8,2.8 0 0 0 9.6,0 v-1.9 z" fill="#e3a12b"/>
<ellipse cx="643.3" cy="292.8" rx="4.8" ry="2.8" fill="#f6bd38"/>
<ellipse cx="643.3" cy="292.8" rx="3.7" ry="2.2" fill="#fbd24e"/>
<path d="M638.5,290.9 v1.9 a4.8,2.8 0 0 0 9.6,0 v-1.9 z" fill="#e3a12b"/>
<ellipse cx="643.3" cy="290.9" rx="4.8" ry="2.8" fill="#f6bd38"/>
<ellipse cx="643.3" cy="290.9" rx="3.7" ry="2.2" fill="#fbd24e"/>
</g>
<g id="bank">
<polygon points="38.2,452.7 39.4,455.3 82.4,478.3 90.1,471.8 90.1,470.1" fill="#d9dadc" />
<polygon points="38.2,451.7 69.2,442.1 79.2,446.8 90.1,470.1 82.4,476.8 39.4,454.2" fill="#f8f8f8" />
<polygon points="46.5,453.6 68.3,446.8 86.0,471.0 81.8,473.9" fill="#d9dadc" />
<polygon points="60.0,450.3 63.9,449.2 83.6,472.4 80.7,473.6" fill="#eceded" />
<ellipse cx="59.4" cy="458.6" rx="3.4" ry="4.4" fill="#f4f4f4" stroke="#cfd0d2" stroke-width="0.5" transform="rotate(-25 59.4 458.6)"/>
<path d="M76.2,435.6 v1.3 a4.2,2.8 0 0 0 8.4,0 v-1.3 z" fill="#e3a12b"/>
<ellipse cx="80.4" cy="435.6" rx="4.2" ry="2.8" fill="#f6bd38"/>
<ellipse cx="80.4" cy="435.6" rx="3.3" ry="2.2" fill="#fbd24e"/>
<polygon points="71.8,445.0 111.6,473.3 111.6,477.1 71.8,448.9" fill="#e9eaec" />
<polygon points="111.6,473.3 128.7,463.6 128.7,467.4 111.6,477.1" fill="#d9dadc" />
<polygon points="71.8,445.0 82.4,439.7 128.7,463.6 111.6,473.3" fill="#f8f8f8" />
<polygon points="75.1,443.6 111.6,467.1 111.6,470.1 75.1,446.5" fill="#e9eaec" />
<polygon points="111.6,467.1 123.4,460.6 123.4,463.6 111.6,470.1" fill="#d9dadc" />
<polygon points="75.1,443.6 82.4,439.7 123.4,460.6 111.6,467.1" fill="#ffffff" />
<polygon points="76.2,444.7 79.2,443.6 79.2,446.5 76.2,447.7" fill="#d9dadc" />
<path d="M84.0,416.8 V450.6 a2.2091310751104567,1.1045655375552283 0 0 0 4.4,0 V416.8 z" fill="#f7f7f7"/>
<path d="M86.6,416.8 V451.7 a2.2091310751104567,1.1045655375552283 0 0 0 1.9,-1.1 V416.8 z" fill="#dfe0e2"/>
<ellipse cx="86.3" cy="416.8" rx="2.2091310751104567" ry="1.1045655375552283" fill="#ffffff"/>
<path d="M92.0,434.1 V455.3 a2.2091310751104567,1.1045655375552283 0 0 0 4.4,0 V434.1 z" fill="#f7f7f7"/>
<path d="M94.5,434.1 V456.5 a2.2091310751104567,1.1045655375552283 0 0 0 1.9,-1.1 V434.1 z" fill="#dfe0e2"/>
<ellipse cx="94.2" cy="434.1" rx="2.2091310751104567" ry="1.1045655375552283" fill="#ffffff"/>
<path d="M99.8,448.9 V459.5 a2.3564064801178204,1.1782032400589102 0 0 0 4.7,0 V448.9 z" fill="#f7f7f7"/>
<path d="M102.5,448.9 V460.6 a2.3564064801178204,1.1782032400589102 0 0 0 2.0,-1.2 V448.9 z" fill="#dfe0e2"/>
<ellipse cx="102.2" cy="448.9" rx="2.3564064801178204" ry="1.1782032400589102" fill="#ffffff"/>
<path d="M107.8,433.3 V464.2 a2.3564064801178204,1.1782032400589102 0 0 0 4.7,0 V433.3 z" fill="#f7f7f7"/>
<path d="M110.5,433.3 V465.4 a2.3564064801178204,1.1782032400589102 0 0 0 2.0,-1.2 V433.3 z" fill="#dfe0e2"/>
<ellipse cx="110.1" cy="433.3" rx="2.3564064801178204" ry="1.1782032400589102" fill="#ffffff"/>
<polygon points="116.9,453.3 119.2,451.2 128.7,456.5 128.7,459.5 126.3,461.2 116.9,455.9" fill="#f8f8f8" />
<polygon points="116.9,455.9 126.3,461.2 128.7,459.5 128.7,458.0 126.0,459.5 116.9,454.5" fill="#c9cacd" />
<polygon points="119.5,479.5 138.1,468.9 140.2,470.1 140.2,471.8 121.9,482.4 119.5,481.3" fill="#f8f8f8" />
<polygon points="119.5,481.3 121.9,482.4 140.2,471.8 140.2,470.7 121.9,481.0" fill="#c9cacd" />
<path d="M44.8,468.0 v1.3 a4.6,3.0 0 0 0 9.2,0 v-1.3 z" fill="#e3a12b"/>
<ellipse cx="49.4" cy="468.0" rx="4.6" ry="3.0" fill="#f6bd38"/>
<ellipse cx="49.4" cy="468.0" rx="3.6" ry="2.3" fill="#fbd24e"/>
<path d="M67.2,483.9 v1.3 a4.6,3.0 0 0 0 9.2,0 v-1.3 z" fill="#e3a12b"/>
<ellipse cx="71.8" cy="483.9" rx="4.6" ry="3.0" fill="#f6bd38"/>
<ellipse cx="71.8" cy="483.9" rx="3.6" ry="2.3" fill="#fbd24e"/>
<path d="M74.0,482.9 v1.3 a4.6,3.0 0 0 0 9.2,0 v-1.3 z" fill="#e3a12b"/>
<ellipse cx="78.6" cy="482.9" rx="4.6" ry="3.0" fill="#f6bd38"/>
<ellipse cx="78.6" cy="482.9" rx="3.6" ry="2.3" fill="#fbd24e"/>
<path d="M130.8,462.7 v1.3 a4.6,3.0 0 0 0 9.2,0 v-1.3 z" fill="#e3a12b"/>
<ellipse cx="135.4" cy="462.7" rx="4.6" ry="3.0" fill="#f6bd38"/>
<ellipse cx="135.4" cy="462.7" rx="3.6" ry="2.3" fill="#fbd24e"/>
<text transform="translate(61.50,414.60) skewY(30) scale(1.0,1)" font-size="23" text-anchor="middle" fill="#dc3f2c" stroke="#dc3f2c" stroke-width="0.5">$</text>
<text transform="translate(61.00,414.32) skewY(30) scale(1.0,1)" font-size="23" text-anchor="middle" fill="#dc3f2c" stroke="#dc3f2c" stroke-width="0.5">$</text>
<text transform="translate(60.50,414.04) skewY(30) scale(1.0,1)" font-size="23" text-anchor="middle" fill="#dc3f2c" stroke="#dc3f2c" stroke-width="0.5">$</text>
<text transform="translate(60.00,413.76) skewY(30) scale(1.0,1)" font-size="23" text-anchor="middle" fill="#dc3f2c" stroke="#dc3f2c" stroke-width="0.5">$</text>
<text transform="translate(59.50,413.48) skewY(30) scale(1.0,1)" font-size="23" text-anchor="middle" fill="#dc3f2c" stroke="#dc3f2c" stroke-width="0.5">$</text>
<text transform="translate(59.00,413.20) skewY(30) scale(1.0,1)" font-size="23" text-anchor="middle" fill="#f6a326" stroke="#fbd233" stroke-width="0.7">$</text>
<text transform="translate(104.10,409.80) skewY(30) scale(1.0,1)" font-size="24" text-anchor="middle" fill="#dc3f2c" stroke="#dc3f2c" stroke-width="0.5">¥</text>
<text transform="translate(103.60,409.52) skewY(30) scale(1.0,1)" font-size="24" text-anchor="middle" fill="#dc3f2c" stroke="#dc3f2c" stroke-width="0.5">¥</text>
<text transform="translate(103.10,409.24) skewY(30) scale(1.0,1)" font-size="24" text-anchor="middle" fill="#dc3f2c" stroke="#dc3f2c" stroke-width="0.5">¥</text>
<text transform="translate(102.60,408.96) skewY(30) scale(1.0,1)" font-size="24" text-anchor="middle" fill="#dc3f2c" stroke="#dc3f2c" stroke-width="0.5">¥</text>
<text transform="translate(102.10,408.68) skewY(30) scale(1.0,1)" font-size="24" text-anchor="middle" fill="#dc3f2c" stroke="#dc3f2c" stroke-width="0.5">¥</text>
<text transform="translate(101.60,408.40) skewY(30) scale(1.0,1)" font-size="24" text-anchor="middle" fill="#f6a326" stroke="#fbd233" stroke-width="0.7">¥</text>
<text transform="translate(144.10,430.20) skewY(30) scale(1.0,1)" font-size="25" text-anchor="middle" fill="#dc3f2c" stroke="#dc3f2c" stroke-width="0.5">€</text>
<text transform="translate(143.60,429.92) skewY(30) scale(1.0,1)" font-size="25" text-anchor="middle" fill="#dc3f2c" stroke="#dc3f2c" stroke-width="0.5">€</text>
<text transform="translate(143.10,429.64) skewY(30) scale(1.0,1)" font-size="25" text-anchor="middle" fill="#dc3f2c" stroke="#dc3f2c" stroke-width="0.5">€</text>
<text transform="translate(142.60,429.36) skewY(30) scale(1.0,1)" font-size="25" text-anchor="middle" fill="#dc3f2c" stroke="#dc3f2c" stroke-width="0.5">€</text>
<text transform="translate(142.10,429.08) skewY(30) scale(1.0,1)" font-size="25" text-anchor="middle" fill="#dc3f2c" stroke="#dc3f2c" stroke-width="0.5">€</text>
<text transform="translate(141.60,428.80) skewY(30) scale(1.0,1)" font-size="25" text-anchor="middle" fill="#f6a326" stroke="#fbd233" stroke-width="0.7">€</text>
<polygon points="74.1,398.4 74.9,397.3 85.6,403.7 85.0,405.8 84.1,406.4" fill="#c41f2e" />
<polygon points="74.1,398.4 84.7,404.7 84.1,406.4 79.4,409.6" fill="#f5555a" />
<polygon points="54.1,419.7 54.9,418.6 65.6,425.0 65.0,427.1 64.1,427.7" fill="#c41f2e" />
<polygon points="54.1,419.7 64.7,426.0 64.1,427.7 59.4,430.9" fill="#f5555a" />
<polygon points="96.4,413.5 97.2,412.4 107.9,418.8 107.3,420.9 106.4,421.5" fill="#c41f2e" />
<polygon points="96.4,413.5 107.0,419.8 106.4,421.5 101.7,424.7" fill="#f5555a" />
<polygon points="117.0,402.2 117.8,401.1 128.5,407.5 127.9,409.6 127.0,410.2" fill="#c41f2e" />
<polygon points="117.0,402.2 127.6,408.5 127.0,410.2 122.3,413.4" fill="#f5555a" />
<polygon points="138.0,432.1 138.8,431.0 149.5,437.4 148.9,439.5 148.0,440.1" fill="#c41f2e" />
<polygon points="138.0,432.1 148.6,438.4 148.0,440.1 143.3,443.3" fill="#f5555a" />
</g>
<g id="factory">
<polygon points="298.9,448.5 308.0,453.7 308.0,458.4 298.9,453.3" fill="#b9512f" />
<polygon points="298.9,448.5 344.5,422.6 353.2,427.3 308.0,453.7" fill="#cfcdca" />
<polygon points="298.9,448.5 344.5,422.6 345.7,423.4 300.5,449.3" fill="#e4e3e0" />
<ellipse cx="339.8" cy="429.7" rx="3.55" ry="1.7" fill="#3b3736"/>
<path d="M337.2,396.7 L336.9,429.3 a2.9,1.3 0 0 0 5.8,0 L342.3,396.7 z" fill="#f8993a"/>
<path d="M340.1,396.7 L340.1,430.6 a2.9,1.3 0 0 0 2.6,-1.3 L342.3,396.7 z" fill="#e17b25"/>
<path d="M337.2,396.7 v2.2 a2.55,1.2 0 0 0 5.1,0 v-2.2 z" fill="#c9502c"/>
<ellipse cx="339.8" cy="396.7" rx="2.55" ry="1.25" fill="#a83c26"/>
<ellipse cx="330.4" cy="435.2" rx="3.55" ry="1.7" fill="#3b3736"/>
<path d="M327.8,402.6 L327.5,434.8 a2.9,1.3 0 0 0 5.8,0 L332.9,402.6 z" fill="#f8993a"/>
<path d="M330.7,402.6 L330.7,436.1 a2.9,1.3 0 0 0 2.6,-1.3 L332.9,402.6 z" fill="#e17b25"/>
<path d="M327.8,402.6 v2.2 a2.55,1.2 0 0 0 5.1,0 v-2.2 z" fill="#c9502c"/>
<ellipse cx="330.4" cy="402.6" rx="2.55" ry="1.25" fill="#a83c26"/>
<ellipse cx="321.1" cy="440.7" rx="3.55" ry="1.7" fill="#3b3736"/>
<path d="M318.6,407.7 L318.2,440.3 a2.9,1.3 0 0 0 5.8,0 L323.7,407.7 z" fill="#f8993a"/>
<path d="M321.4,407.7 L321.4,441.6 a2.9,1.3 0 0 0 2.6,-1.3 L323.7,407.7 z" fill="#e17b25"/>
<path d="M318.6,407.7 v2.2 a2.55,1.2 0 0 0 5.1,0 v-2.2 z" fill="#c9502c"/>
<ellipse cx="321.1" cy="407.7" rx="2.55" ry="1.25" fill="#a83c26"/>
<ellipse cx="311.7" cy="446.0" rx="3.55" ry="1.7" fill="#3b3736"/>
<path d="M309.1,413.0 L308.8,445.6 a2.9,1.3 0 0 0 5.8,0 L314.2,413.0 z" fill="#f8993a"/>
<path d="M312.0,413.0 L312.0,446.9 a2.9,1.3 0 0 0 2.6,-1.3 L314.2,413.0 z" fill="#e17b25"/>
<path d="M309.1,413.0 v2.2 a2.55,1.2 0 0 0 5.1,0 v-2.2 z" fill="#c9502c"/>
<ellipse cx="311.7" cy="413.0" rx="2.55" ry="1.25" fill="#a83c26"/>
<polygon points="376.3,397.1 379.1,395.9 381.1,397.1 381.1,439.1 376.3,439.1" fill="#b5452d" />
<polygon points="379.1,397.1 381.1,397.1 381.1,439.1 379.1,439.1" fill="#8f3524" />
<path d="M384.5,430.3 V443.4 a6.0,3.0 0 0 0 12.0,0 V430.3 z" fill="#f4f4f3"/>
<path d="M391.4,430.3 V446.4 a6.0,3.0 0 0 0 5.1,-3.0 V430.3 z" fill="#dcdcda"/>
<ellipse cx="390.5" cy="430.3" rx="6.0" ry="3.0" fill="#fbfbfa"/>
<path d="M395.1,437.2 V456.8 a6.0,3.0 0 0 0 12.0,0 V437.2 z" fill="#f4f4f3"/>
<path d="M402.0,437.2 V459.8 a6.0,3.0 0 0 0 5.1,-3.0 V437.2 z" fill="#dcdcda"/>
<ellipse cx="401.1" cy="437.2" rx="6.0" ry="3.0" fill="#fbfbfa"/>
<polygon points="315.4,448.2 324.5,445.8 360.2,421.0 372.0,424.6 379.1,437.2 338.6,463.1 328.4,449.3" fill="#65524a" />
<polygon points="315.4,448.2 324.5,445.8 360.2,421.0 353.9,422.6 318.6,447.0" fill="#7b6860" />
<polygon points="324.5,445.8 360.2,421.0 372.0,424.6 334.3,448.2" fill="#6d5a51" />
<polygon points="308.0,453.7 315.4,448.2 324.5,446.2 329.6,449.7 337.0,461.9 337.0,470.6 308.0,458.4" fill="#c89d5f" />
<polygon points="308.0,453.7 315.4,448.2 324.5,446.2 329.6,449.7 337.0,461.9 335.7,461.9 328.8,450.9 324.1,447.8 315.8,449.5 309.1,454.4" fill="#a9803f" />
<polygon points="320.5,461.1 328.4,465.0 328.4,469.4 320.5,465.4" fill="#25201f" />
<polygon points="320.9,456.8 323.7,458.2 323.7,459.4 320.9,458.0" fill="#4aa3d9" />
<polygon points="326.4,459.5 329.2,460.9 329.2,462.1 326.4,460.7" fill="#4aa3d9" />
<polygon points="310.3,456.4 312.3,457.4 312.3,461.1 310.3,460.1" fill="#4b4038" />
<polygon points="338.2,463.1 355.9,473.7 355.9,486.7 338.2,476.1" fill="#b9512f" />
<polygon points="355.9,473.7 399.5,448.9 399.5,461.9 355.9,486.7" fill="#97412a" />
<polygon points="338.2,461.9 381.4,437.5 399.5,448.2 355.9,472.9" fill="#d4d2ce" />
<polygon points="338.2,461.9 355.9,472.1 355.9,474.5 338.2,464.3" fill="#f3f1ee" />
<polygon points="355.9,472.1 399.5,447.6 399.5,449.7 355.9,474.5" fill="#e3e1dd" />
<line x1="358.7" y1="477.2" x2="397.2" y2="455.2" stroke="#2a8fb8" stroke-width="0.8"/>
<polygon points="360.2,391.0 361.2,390.4 397.2,410.8 396.2,411.2" fill="#fbe389" />
<polygon points="360.2,391.0 396.2,411.2 396.2,431.7 360.2,411.2" fill="#fdd24b" />
<polygon points="396.2,411.2 397.2,410.8 397.2,430.9 396.2,431.7" fill="#e0a62a" />
<text transform="translate(361.8,410.8) skewY(29.5)" font-size="11.6" font-weight="bold" fill="#17171a" textLength="31.6" lengthAdjust="spacingAndGlyphs" stroke="#17171a" stroke-width="0.25">CLOSED</text>
</g>
<g id="fired">
<polygon points="629.1,403.6 637.4,407.8 637.4,421.3 629.1,417.0" fill="#f8f7f5" />
<polygon points="637.4,407.8 643.0,404.9 643.0,418.3 637.4,421.3" fill="#e2dfdb" />
<polygon points="629.1,403.6 634.7,400.6 643.0,404.9 637.4,407.8" fill="#ffffff" />
<polygon points="631.3,395.5 633.1,393.7 638.1,393.3 641.2,395.3 641.2,401.8 637.4,404.5 631.3,401.3" fill="#f8f7f5" />
<polygon points="637.4,398.2 641.2,395.3 641.2,401.8 637.4,404.5" fill="#e2dfdb" />
<polygon points="631.3,395.5 633.1,393.7 638.1,393.3 641.2,395.3 637.4,398.2" fill="#ffffff" />
<polygon points="631.9,405.5 634.6,406.8 635.0,414.5 633.3,417.4 631.5,413.0" fill="#2f80b7" />
<polygon points="631.9,405.5 634.6,406.8 634.3,408.8 632.1,407.8" fill="#1f5f8f" />
<polygon points="560.3,403.6 568.6,407.8 568.6,421.3 560.3,417.0" fill="#f8f7f5" />
<polygon points="568.6,407.8 574.2,404.9 574.2,418.3 568.6,421.3" fill="#e2dfdb" />
<polygon points="560.3,403.6 565.9,400.6 574.2,404.9 568.6,407.8" fill="#ffffff" />
<polygon points="562.6,395.5 564.4,393.7 569.3,393.3 572.4,395.3 572.4,401.8 568.6,404.5 562.6,401.3" fill="#f8f7f5" />
<polygon points="568.6,398.2 572.4,395.3 572.4,401.8 568.6,404.5" fill="#e2dfdb" />
<polygon points="562.6,395.5 564.4,393.7 569.3,393.3 572.4,395.3 568.6,398.2" fill="#ffffff" />
<polygon points="563.1,405.5 565.8,406.8 566.3,414.5 564.5,417.4 562.7,413.0" fill="#2f80b7" />
<polygon points="563.1,405.5 565.8,406.8 565.5,408.8 563.4,407.8" fill="#1f5f8f" />
<polygon points="580.0,413.4 588.3,417.6 588.3,431.1 580.0,426.8" fill="#f8f7f5" />
<polygon points="588.3,417.6 593.9,414.7 593.9,428.2 588.3,431.1" fill="#e2dfdb" />
<polygon points="580.0,413.4 585.6,410.5 593.9,414.7 588.3,417.6" fill="#ffffff" />
<polygon points="582.2,405.3 584.0,403.5 589.0,403.1 592.1,405.1 592.1,411.6 588.3,414.3 582.2,411.1" fill="#f8f7f5" />
<polygon points="588.3,408.0 592.1,405.1 592.1,411.6 588.3,414.3" fill="#e2dfdb" />
<polygon points="582.2,405.3 584.0,403.5 589.0,403.1 592.1,405.1 588.3,408.0" fill="#ffffff" />
<polygon points="582.8,415.3 585.5,416.6 585.9,424.4 584.1,427.3 582.3,422.8" fill="#2f80b7" />
<polygon points="582.8,415.3 585.5,416.6 585.1,418.6 583.0,417.6" fill="#1f5f8f" />
<polygon points="646.0,416.5 654.3,420.8 654.3,434.2 646.0,430.0" fill="#f8f7f5" />
<polygon points="654.3,420.8 659.9,417.9 659.9,431.3 654.3,434.2" fill="#e2dfdb" />
<polygon points="646.0,416.5 651.6,413.6 659.9,417.9 654.3,420.8" fill="#ffffff" />
<polygon points="648.2,408.5 650.0,406.7 655.0,406.2 658.1,408.2 658.1,414.7 654.3,417.4 648.2,414.3" fill="#f8f7f5" />
<polygon points="654.3,411.1 658.1,408.2 658.1,414.7 654.3,417.4" fill="#e2dfdb" />
<polygon points="648.2,408.5 650.0,406.7 655.0,406.2 658.1,408.2 654.3,411.1" fill="#ffffff" />
<polygon points="648.8,418.4 651.5,419.8 651.9,427.5 650.1,430.4 648.4,425.9" fill="#2f80b7" />
<polygon points="648.8,418.4 651.5,419.8 651.2,421.8 649.0,420.8" fill="#1f5f8f" />
<polygon points="569.0,433.0 577.3,437.3 577.3,450.7 569.0,446.5" fill="#f8f7f5" />
<polygon points="577.3,437.3 582.9,434.4 582.9,447.8 577.3,450.7" fill="#e2dfdb" />
<polygon points="569.0,433.0 574.6,430.1 582.9,434.4 577.3,437.3" fill="#ffffff" />
<polygon points="571.2,425.0 573.0,423.2 577.9,422.7 581.1,424.7 581.1,431.2 577.3,433.9 571.2,430.8" fill="#f8f7f5" />
<polygon points="577.3,427.6 581.1,424.7 581.1,431.2 577.3,433.9" fill="#e2dfdb" />
<polygon points="571.2,425.0 573.0,423.2 577.9,422.7 581.1,424.7 577.3,427.6" fill="#ffffff" />
<polygon points="571.8,434.9 574.5,436.3 574.9,444.0 573.1,446.9 571.3,442.4" fill="#2f80b7" />
<polygon points="571.8,434.9 574.5,436.3 574.1,438.3 572.0,437.3" fill="#1f5f8f" />
<path d="M611.3,404.3 L612.1,396.0 L629.4,405.4 L629.0,412.9" fill="none" stroke="#3b2a26" stroke-width="1.9" stroke-linejoin="round"/>
<path d="M612.1,395.6 L629.4,405.0" fill="none" stroke="#5a4039" stroke-width="1.2"/>
<polygon points="592.0,404.6 594.4,398.4 599.5,395.6 646.7,421.5 647.4,424.3 639.6,429.8" fill="#a8652f" />
<polygon points="639.6,429.8 647.4,424.3 647.4,458.1 639.6,464.0" fill="#693818" />
<polygon points="592.0,404.6 593.6,403.9 639.6,429.0 639.6,464.0 592.0,438.4" fill="#91502a" />
<polygon points="592.0,421.5 639.6,446.3 639.6,464.0 592.0,438.4" fill="#7f4320" />
<polygon points="592.0,420.8 639.6,445.5 639.6,446.7 592.0,421.9" fill="#5e3217" />
<polygon points="627.0,440.8 632.5,443.5 632.5,449.4 627.0,446.7" fill="#eadfcd" />
<polygon points="628.2,442.8 631.3,444.3 631.3,447.5 628.2,445.9" fill="#cdbfa6" />
<polygon points="597.2,413.7 600.7,412.1 604.2,414.1 604.2,420.4 597.2,420.4" fill="#c0573f" />
<polygon points="598.3,443.9 601.5,445.5 601.5,469.9 598.3,468.3" fill="#b5452d" />
<polygon points="601.5,445.5 604.2,443.9 604.2,468.3 601.5,469.9" fill="#8f3524" />
<polygon points="580.5,409.6 581.4,408.8 618.8,429.8 617.8,430.6" fill="#fbe389" />
<polygon points="580.5,409.6 617.8,430.6 617.8,451.8 580.5,431.2" fill="#fdd24b" />
<polygon points="617.8,430.6 618.8,429.8 618.8,451.0 617.8,451.8" fill="#e0a62a" />
<text transform="translate(585.4,432.9) skewY(29.5)" font-size="12.4" font-weight="bold" fill="#17171a" textLength="26.6" lengthAdjust="spacingAndGlyphs" stroke="#17171a" stroke-width="0.3">FIRED</text>
<polygon points="558.4,444.0 566.7,448.3 566.7,461.7 558.4,457.5" fill="#f8f7f5" />
<polygon points="566.7,448.3 572.3,445.4 572.3,458.8 566.7,461.7" fill="#e2dfdb" />
<polygon points="558.4,444.0 564.0,441.1 572.3,445.4 566.7,448.3" fill="#ffffff" />
<polygon points="560.6,436.0 562.4,434.2 567.3,433.7 570.5,435.7 570.5,442.2 566.7,444.9 560.6,441.8" fill="#f8f7f5" />
<polygon points="566.7,438.7 570.5,435.7 570.5,442.2 566.7,444.9" fill="#e2dfdb" />
<polygon points="560.6,436.0 562.4,434.2 567.3,433.7 570.5,435.7 566.7,438.7" fill="#ffffff" />
<polygon points="561.2,445.9 563.9,447.3 564.3,455.0 562.5,457.9 560.7,453.4" fill="#2f80b7" />
<polygon points="561.2,445.9 563.9,447.3 563.5,449.3 561.4,448.3" fill="#1f5f8f" />
<polygon points="647.6,455.8 655.9,460.1 655.9,473.5 647.6,469.3" fill="#f8f7f5" />
<polygon points="655.9,460.1 661.5,457.2 661.5,470.6 655.9,473.5" fill="#e2dfdb" />
<polygon points="647.6,455.8 653.2,452.9 661.5,457.2 655.9,460.1" fill="#ffffff" />
<polygon points="649.8,447.8 651.6,446.0 656.5,445.5 659.7,447.5 659.7,454.0 655.9,456.7 649.8,453.6" fill="#f8f7f5" />
<polygon points="655.9,450.4 659.7,447.5 659.7,454.0 655.9,456.7" fill="#e2dfdb" />
<polygon points="649.8,447.8 651.6,446.0 656.5,445.5 659.7,447.5 655.9,450.4" fill="#ffffff" />
<polygon points="650.4,457.7 653.1,459.1 653.5,466.8 651.7,469.7 649.9,465.2" fill="#2f80b7" />
<polygon points="650.4,457.7 653.1,459.1 652.7,461.1 650.6,460.1" fill="#1f5f8f" />
<polygon points="585.5,459.7 593.8,464.0 593.8,477.4 585.5,473.2" fill="#f8f7f5" />
<polygon points="593.8,464.0 599.4,461.1 599.4,474.5 593.8,477.4" fill="#e2dfdb" />
<polygon points="585.5,459.7 591.1,456.8 599.4,461.1 593.8,464.0" fill="#ffffff" />
<polygon points="587.7,451.7 589.5,449.9 594.5,449.4 597.6,451.5 597.6,458.0 593.8,460.6 587.7,457.5" fill="#f8f7f5" />
<polygon points="593.8,454.4 597.6,451.5 597.6,458.0 593.8,460.6" fill="#e2dfdb" />
<polygon points="587.7,451.7 589.5,449.9 594.5,449.4 597.6,451.5 593.8,454.4" fill="#ffffff" />
<polygon points="588.3,461.6 591.0,463.0 591.4,470.7 589.6,473.6 587.8,469.2" fill="#2f80b7" />
<polygon points="588.3,461.6 591.0,463.0 590.6,465.0 588.5,464.0" fill="#1f5f8f" />
<polygon points="604.4,462.1 612.6,466.4 612.6,479.8 604.4,475.5" fill="#f8f7f5" />
<polygon points="612.6,466.4 618.2,463.4 618.2,476.9 612.6,479.8" fill="#e2dfdb" />
<polygon points="604.4,462.1 610.0,459.2 618.2,463.4 612.6,466.4" fill="#ffffff" />
<polygon points="606.6,454.0 608.4,452.2 613.3,451.8 616.4,453.8 616.4,460.3 612.6,463.0 606.6,459.9" fill="#f8f7f5" />
<polygon points="612.6,456.7 616.4,453.8 616.4,460.3 612.6,463.0" fill="#e2dfdb" />
<polygon points="606.6,454.0 608.4,452.2 613.3,451.8 616.4,453.8 612.6,456.7" fill="#ffffff" />
<polygon points="607.2,464.0 609.8,465.3 610.3,473.1 608.5,476.0 606.7,471.5" fill="#2f80b7" />
<polygon points="607.2,464.0 609.8,465.3 609.5,467.4 607.4,466.4" fill="#1f5f8f" />
<polygon points="627.9,465.0 636.2,469.3 636.2,482.7 627.9,478.5" fill="#f8f7f5" />
<polygon points="636.2,469.3 641.8,466.4 641.8,479.8 636.2,482.7" fill="#e2dfdb" />
<polygon points="627.9,465.0 633.5,462.1 641.8,466.4 636.2,469.3" fill="#ffffff" />
<polygon points="630.2,457.0 632.0,455.2 636.9,454.7 640.0,456.8 640.0,463.3 636.2,465.9 630.2,462.8" fill="#f8f7f5" />
<polygon points="636.2,459.7 640.0,456.8 640.0,463.3 636.2,465.9" fill="#e2dfdb" />
<polygon points="630.2,457.0 632.0,455.2 636.9,454.7 640.0,456.8 636.2,459.7" fill="#ffffff" />
<polygon points="630.7,467.0 633.4,468.3 633.9,476.0 632.1,478.9 630.3,474.5" fill="#2f80b7" />
<polygon points="630.7,467.0 633.4,468.3 633.1,470.3 631.0,469.3" fill="#1f5f8f" />
</g>
<g id="wm">
<rect x="577.4" y="334.3" width="222.6" height="64.3" fill="#14161e" fill-opacity="0.33"/>
<g transform="translate(629.6,366.6) rotate(-108)"><path d="M6.0,-1.5 L24,-4.7 Q26.8,0 24,4.7 L6.0,1.5 Z" fill="#ffffff"/></g>
<g transform="translate(629.6,366.6) rotate(-22)"><path d="M6.0,-1.5 L24,-4.7 Q26.8,0 24,4.7 L6.0,1.5 Z" fill="#ffffff"/></g>
<g transform="translate(629.6,366.6) rotate(28)"><path d="M6.0,-1.5 L22,-4.5 Q24.8,0 22,4.5 L6.0,1.5 Z" fill="#ffffff"/></g>
<g transform="translate(629.6,366.6) rotate(96)"><path d="M6.0,-1.5 L22,-4.4 Q24.8,0 22,4.4 L6.0,1.5 Z" fill="#ffffff"/></g>
<g transform="translate(629.6,366.6) rotate(160)"><path d="M6.0,-1.5 L23,-4.5 Q25.8,0 23,4.5 L6.0,1.5 Z" fill="#ffffff"/></g>
<text x="592.00" y="368.80" font-size="12.6" fill="#ffffff" textLength="31.8" lengthAdjust="spacingAndGlyphs" font-weight="bold" >VCG</text>
<text x="657.60" y="374.70" font-size="11.6" fill="#ffffff" textLength="122.0" lengthAdjust="spacingAndGlyphs" fill-opacity="0.9" stroke="#6a6e78" stroke-width="0.25" paint-order="fill stroke">ID: VCG211429488638</text>
</g>
</svg>
</body>
</html>
